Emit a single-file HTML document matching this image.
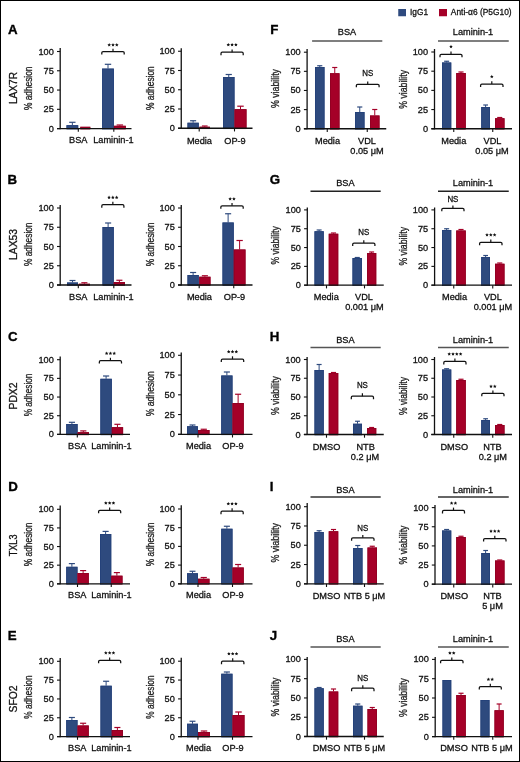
<!DOCTYPE html>
<html><head><meta charset="utf-8"><style>
html,body{margin:0;padding:0;background:#fff;}
body{width:520px;height:762px;overflow:hidden;position:relative;}
svg{position:absolute;left:0;top:0;font-family:"Liberation Sans", sans-serif;will-change:transform;}
.frame{position:absolute;left:0;top:0;width:520px;height:762px;box-sizing:border-box;border:1.5px solid #000;}
</style></head><body>
<svg width="520" height="762" viewBox="0 0 520 762">
<rect x="66.5" y="125.2" width="11.7" height="3.4" fill="#2E4A7E"/>
<rect x="66.9" y="125.6" width="10.9" height="3.4" fill="none" stroke="#24407a" stroke-width="0.8"/>
<line x1="72.35" y1="125.2" x2="72.35" y2="122.3" stroke="#2E4A7E" stroke-width="1.0"/>
<line x1="69.19" y1="122.3" x2="75.51" y2="122.3" stroke="#2E4A7E" stroke-width="1.2"/>
<rect x="80.3" y="126.8" width="10.0" height="1.8" fill="#A50028"/>
<rect x="80.7" y="127.2" width="9.2" height="1.8" fill="none" stroke="#8f0022" stroke-width="0.8"/>
<rect x="102.1" y="68.6" width="11.8" height="60.0" fill="#2E4A7E"/>
<rect x="102.5" y="69.0" width="11" height="60.0" fill="none" stroke="#24407a" stroke-width="0.8"/>
<line x1="108.0" y1="68.6" x2="108.0" y2="64.3" stroke="#2E4A7E" stroke-width="1.0"/>
<line x1="104.81" y1="64.3" x2="111.19" y2="64.3" stroke="#2E4A7E" stroke-width="1.2"/>
<rect x="113.9" y="125.8" width="11.9" height="2.8" fill="#A50028"/>
<rect x="114.3" y="126.2" width="11.1" height="2.8" fill="none" stroke="#8f0022" stroke-width="0.8"/>
<line x1="119.85" y1="125.8" x2="119.85" y2="125" stroke="#A50028" stroke-width="1.0"/>
<line x1="116.64" y1="125" x2="123.06" y2="125" stroke="#A50028" stroke-width="1.2"/>
<line x1="60.2" y1="48.1" x2="60.2" y2="129.15" stroke="#111" stroke-width="1.3"/>
<line x1="57.0" y1="128.6" x2="131.5" y2="128.6" stroke="#111" stroke-width="1.3"/>
<line x1="57.0" y1="128.6" x2="60.2" y2="128.6" stroke="#111" stroke-width="1.1"/>
<text x="53.8" y="131.6" font-size="9.2" text-anchor="end" fill="#111" font-weight="normal" stroke="#111" stroke-width="0.3">0</text>
<line x1="57.0" y1="109.32" x2="60.2" y2="109.32" stroke="#111" stroke-width="1.1"/>
<text x="53.8" y="112.32" font-size="9.2" text-anchor="end" fill="#111" font-weight="normal" stroke="#111" stroke-width="0.3">25</text>
<line x1="57.0" y1="90.05" x2="60.2" y2="90.05" stroke="#111" stroke-width="1.1"/>
<text x="53.8" y="93.05" font-size="9.2" text-anchor="end" fill="#111" font-weight="normal" stroke="#111" stroke-width="0.3">50</text>
<line x1="57.0" y1="70.77" x2="60.2" y2="70.77" stroke="#111" stroke-width="1.1"/>
<text x="53.8" y="73.77" font-size="9.2" text-anchor="end" fill="#111" font-weight="normal" stroke="#111" stroke-width="0.3">75</text>
<line x1="57.0" y1="51.5" x2="60.2" y2="51.5" stroke="#111" stroke-width="1.1"/>
<text x="53.8" y="54.5" font-size="9.2" text-anchor="end" fill="#111" font-weight="normal" stroke="#111" stroke-width="0.3">100</text>
<line x1="78.3" y1="128.6" x2="78.3" y2="131.8" stroke="#111" stroke-width="1.1"/>
<line x1="113.8" y1="128.6" x2="113.8" y2="131.8" stroke="#111" stroke-width="1.1"/>
<path d="M101.8,54.5 L101.8,52.8 Q101.8,51.5 103.1,51.5 L122.9,51.5 Q124.2,51.5 124.2,52.8 L124.2,54.5" fill="none" stroke="#111" stroke-width="1.25"/>
<line x1="113.0" y1="51.5" x2="113.0" y2="48.7" stroke="#111" stroke-width="1.2"/>
<polygon points="109.20,43.05 109.74,44.15 110.96,44.33 110.08,45.19 110.29,46.40 109.20,45.82 108.11,46.40 108.32,45.19 107.44,44.33 108.66,44.15" fill="#111"/>
<polygon points="113.00,43.05 113.54,44.15 114.76,44.33 113.88,45.19 114.09,46.40 113.00,45.82 111.91,46.40 112.12,45.19 111.24,44.33 112.46,44.15" fill="#111"/>
<polygon points="116.80,43.05 117.34,44.15 118.56,44.33 117.68,45.19 117.89,46.40 116.80,45.82 115.71,46.40 115.92,45.19 115.04,44.33 116.26,44.15" fill="#111"/>
<text x="78.3" y="143" font-size="9.2" text-anchor="middle" fill="#111" font-weight="normal" stroke="#111" stroke-width="0.3">BSA</text>
<text x="113.4" y="143" font-size="9.2" text-anchor="middle" fill="#111" font-weight="normal" stroke="#111" stroke-width="0.3">Laminin-1</text>
<text x="0" y="0" font-size="10.6" text-anchor="middle" fill="#222" font-weight="normal" stroke="#222" stroke-width="0.3" textLength="43.6" lengthAdjust="spacingAndGlyphs" transform="translate(32.2,88.3) rotate(-90)">% adhesion</text>
<rect x="67" y="282.5" width="11" height="2.5" fill="#2E4A7E"/>
<rect x="67.4" y="282.9" width="10.2" height="2.5" fill="none" stroke="#24407a" stroke-width="0.8"/>
<line x1="72.5" y1="282.5" x2="72.5" y2="280.5" stroke="#2E4A7E" stroke-width="1.0"/>
<line x1="69.53" y1="280.5" x2="75.47" y2="280.5" stroke="#2E4A7E" stroke-width="1.2"/>
<rect x="78.75" y="283.75" width="11.25" height="1.25" fill="#A50028"/>
<rect x="79.15" y="284.15" width="10.45" height="1.25" fill="none" stroke="#8f0022" stroke-width="0.8"/>
<line x1="84.38" y1="283.75" x2="84.38" y2="282.75" stroke="#A50028" stroke-width="1.0"/>
<line x1="81.34" y1="282.75" x2="87.41" y2="282.75" stroke="#A50028" stroke-width="1.2"/>
<rect x="102.5" y="227" width="11.25" height="58" fill="#2E4A7E"/>
<rect x="102.9" y="227.4" width="10.45" height="58" fill="none" stroke="#24407a" stroke-width="0.8"/>
<line x1="108.12" y1="227" x2="108.12" y2="223" stroke="#2E4A7E" stroke-width="1.0"/>
<line x1="105.09" y1="223" x2="111.16" y2="223" stroke="#2E4A7E" stroke-width="1.2"/>
<rect x="113.75" y="282" width="11.25" height="3" fill="#A50028"/>
<rect x="114.15" y="282.4" width="10.45" height="3" fill="none" stroke="#8f0022" stroke-width="0.8"/>
<line x1="119.38" y1="282" x2="119.38" y2="280.25" stroke="#A50028" stroke-width="1.0"/>
<line x1="116.34" y1="280.25" x2="122.41" y2="280.25" stroke="#A50028" stroke-width="1.2"/>
<line x1="60.2" y1="205" x2="60.2" y2="285.55" stroke="#111" stroke-width="1.3"/>
<line x1="57.0" y1="285" x2="131.5" y2="285" stroke="#111" stroke-width="1.3"/>
<line x1="57.0" y1="285.0" x2="60.2" y2="285.0" stroke="#111" stroke-width="1.1"/>
<text x="53.8" y="288.0" font-size="9.2" text-anchor="end" fill="#111" font-weight="normal" stroke="#111" stroke-width="0.3">0</text>
<line x1="57.0" y1="265.75" x2="60.2" y2="265.75" stroke="#111" stroke-width="1.1"/>
<text x="53.8" y="268.75" font-size="9.2" text-anchor="end" fill="#111" font-weight="normal" stroke="#111" stroke-width="0.3">25</text>
<line x1="57.0" y1="246.5" x2="60.2" y2="246.5" stroke="#111" stroke-width="1.1"/>
<text x="53.8" y="249.5" font-size="9.2" text-anchor="end" fill="#111" font-weight="normal" stroke="#111" stroke-width="0.3">50</text>
<line x1="57.0" y1="227.25" x2="60.2" y2="227.25" stroke="#111" stroke-width="1.1"/>
<text x="53.8" y="230.25" font-size="9.2" text-anchor="end" fill="#111" font-weight="normal" stroke="#111" stroke-width="0.3">75</text>
<line x1="57.0" y1="208.0" x2="60.2" y2="208.0" stroke="#111" stroke-width="1.1"/>
<text x="53.8" y="211.0" font-size="9.2" text-anchor="end" fill="#111" font-weight="normal" stroke="#111" stroke-width="0.3">100</text>
<line x1="78.3" y1="285" x2="78.3" y2="288.2" stroke="#111" stroke-width="1.1"/>
<line x1="113.8" y1="285" x2="113.8" y2="288.2" stroke="#111" stroke-width="1.1"/>
<path d="M101.8,207.65 L101.8,205.95 Q101.8,204.65 103.1,204.65 L122.6,204.65 Q123.9,204.65 123.9,205.95 L123.9,207.65" fill="none" stroke="#111" stroke-width="1.25"/>
<line x1="112.85" y1="204.65" x2="112.85" y2="201.85" stroke="#111" stroke-width="1.2"/>
<polygon points="109.05,195.60 109.59,196.70 110.81,196.88 109.93,197.74 110.14,198.95 109.05,198.38 107.96,198.95 108.17,197.74 107.29,196.88 108.51,196.70" fill="#111"/>
<polygon points="112.85,195.60 113.39,196.70 114.61,196.88 113.73,197.74 113.94,198.95 112.85,198.38 111.76,198.95 111.97,197.74 111.09,196.88 112.31,196.70" fill="#111"/>
<polygon points="116.65,195.60 117.19,196.70 118.41,196.88 117.53,197.74 117.74,198.95 116.65,198.38 115.56,198.95 115.77,197.74 114.89,196.88 116.11,196.70" fill="#111"/>
<text x="78.3" y="299.5" font-size="9.2" text-anchor="middle" fill="#111" font-weight="normal" stroke="#111" stroke-width="0.3">BSA</text>
<text x="113.4" y="299.5" font-size="9.2" text-anchor="middle" fill="#111" font-weight="normal" stroke="#111" stroke-width="0.3">Laminin-1</text>
<text x="0" y="0" font-size="10.6" text-anchor="middle" fill="#222" font-weight="normal" stroke="#222" stroke-width="0.3" textLength="43.5" lengthAdjust="spacingAndGlyphs" transform="translate(32.2,244.25) rotate(-90)">% adhesion</text>
<rect x="66.25" y="424" width="11.35" height="10.4" fill="#2E4A7E"/>
<rect x="66.65" y="424.4" width="10.55" height="10.4" fill="none" stroke="#24407a" stroke-width="0.8"/>
<line x1="71.92" y1="424" x2="71.92" y2="422.3" stroke="#2E4A7E" stroke-width="1.0"/>
<line x1="68.86" y1="422.3" x2="74.99" y2="422.3" stroke="#2E4A7E" stroke-width="1.2"/>
<rect x="77.6" y="432.2" width="11.4" height="2.2" fill="#A50028"/>
<rect x="78.0" y="432.6" width="10.6" height="2.2" fill="none" stroke="#8f0022" stroke-width="0.8"/>
<line x1="83.3" y1="432.2" x2="83.3" y2="430.9" stroke="#A50028" stroke-width="1.0"/>
<line x1="80.22" y1="430.9" x2="86.38" y2="430.9" stroke="#A50028" stroke-width="1.2"/>
<rect x="100.4" y="378.8" width="11.4" height="55.6" fill="#2E4A7E"/>
<rect x="100.8" y="379.2" width="10.6" height="55.6" fill="none" stroke="#24407a" stroke-width="0.8"/>
<line x1="106.1" y1="378.8" x2="106.1" y2="376" stroke="#2E4A7E" stroke-width="1.0"/>
<line x1="103.02" y1="376" x2="109.18" y2="376" stroke="#2E4A7E" stroke-width="1.2"/>
<rect x="111.8" y="427.2" width="11.3" height="7.2" fill="#A50028"/>
<rect x="112.2" y="427.6" width="10.5" height="7.2" fill="none" stroke="#8f0022" stroke-width="0.8"/>
<line x1="117.45" y1="427.2" x2="117.45" y2="424.3" stroke="#A50028" stroke-width="1.0"/>
<line x1="114.4" y1="424.3" x2="120.5" y2="424.3" stroke="#A50028" stroke-width="1.2"/>
<line x1="60.2" y1="356.4" x2="60.2" y2="434.95" stroke="#111" stroke-width="1.3"/>
<line x1="57.0" y1="434.4" x2="130" y2="434.4" stroke="#111" stroke-width="1.3"/>
<line x1="57.0" y1="434.4" x2="60.2" y2="434.4" stroke="#111" stroke-width="1.1"/>
<text x="53.8" y="437.4" font-size="9.2" text-anchor="end" fill="#111" font-weight="normal" stroke="#111" stroke-width="0.3">0</text>
<line x1="57.0" y1="415.72" x2="60.2" y2="415.72" stroke="#111" stroke-width="1.1"/>
<text x="53.8" y="418.72" font-size="9.2" text-anchor="end" fill="#111" font-weight="normal" stroke="#111" stroke-width="0.3">25</text>
<line x1="57.0" y1="397.05" x2="60.2" y2="397.05" stroke="#111" stroke-width="1.1"/>
<text x="53.8" y="400.05" font-size="9.2" text-anchor="end" fill="#111" font-weight="normal" stroke="#111" stroke-width="0.3">50</text>
<line x1="57.0" y1="378.38" x2="60.2" y2="378.38" stroke="#111" stroke-width="1.1"/>
<text x="53.8" y="381.38" font-size="9.2" text-anchor="end" fill="#111" font-weight="normal" stroke="#111" stroke-width="0.3">75</text>
<line x1="57.0" y1="359.7" x2="60.2" y2="359.7" stroke="#111" stroke-width="1.1"/>
<text x="53.8" y="362.7" font-size="9.2" text-anchor="end" fill="#111" font-weight="normal" stroke="#111" stroke-width="0.3">100</text>
<line x1="77.3" y1="434.4" x2="77.3" y2="437.6" stroke="#111" stroke-width="1.1"/>
<line x1="111.4" y1="434.4" x2="111.4" y2="437.6" stroke="#111" stroke-width="1.1"/>
<path d="M99.35,363.6 L99.35,361.9 Q99.35,360.6 100.65,360.6 L120.2,360.6 Q121.5,360.6 121.5,361.9 L121.5,363.6" fill="none" stroke="#111" stroke-width="1.25"/>
<line x1="110.42" y1="360.6" x2="110.42" y2="357.8" stroke="#111" stroke-width="1.2"/>
<polygon points="106.62,351.55 107.17,352.65 108.38,352.83 107.50,353.69 107.71,354.90 106.62,354.33 105.54,354.90 105.75,353.69 104.87,352.83 106.08,352.65" fill="#111"/>
<polygon points="110.42,351.55 110.97,352.65 112.18,352.83 111.30,353.69 111.51,354.90 110.42,354.33 109.34,354.90 109.55,353.69 108.67,352.83 109.88,352.65" fill="#111"/>
<polygon points="114.22,351.55 114.77,352.65 115.98,352.83 115.10,353.69 115.31,354.90 114.22,354.33 113.14,354.90 113.35,353.69 112.47,352.83 113.68,352.65" fill="#111"/>
<text x="77.3" y="448.5" font-size="9.2" text-anchor="middle" fill="#111" font-weight="normal" stroke="#111" stroke-width="0.3">BSA</text>
<text x="111.4" y="448.5" font-size="9.2" text-anchor="middle" fill="#111" font-weight="normal" stroke="#111" stroke-width="0.3">Laminin-1</text>
<text x="0" y="0" font-size="10.6" text-anchor="middle" fill="#222" font-weight="normal" stroke="#222" stroke-width="0.3" textLength="42.5" lengthAdjust="spacingAndGlyphs" transform="translate(32.2,395.0) rotate(-90)">% adhesion</text>
<rect x="66.25" y="566.8" width="11.25" height="17.0" fill="#2E4A7E"/>
<rect x="66.65" y="567.2" width="10.45" height="17.0" fill="none" stroke="#24407a" stroke-width="0.8"/>
<line x1="71.88" y1="566.8" x2="71.88" y2="563.6" stroke="#2E4A7E" stroke-width="1.0"/>
<line x1="68.84" y1="563.6" x2="74.91" y2="563.6" stroke="#2E4A7E" stroke-width="1.2"/>
<rect x="77.5" y="573" width="11.25" height="10.8" fill="#A50028"/>
<rect x="77.9" y="573.4" width="10.45" height="10.8" fill="none" stroke="#8f0022" stroke-width="0.8"/>
<line x1="83.12" y1="573" x2="83.12" y2="570.6" stroke="#A50028" stroke-width="1.0"/>
<line x1="80.09" y1="570.6" x2="86.16" y2="570.6" stroke="#A50028" stroke-width="1.2"/>
<rect x="100" y="534" width="11.25" height="49.8" fill="#2E4A7E"/>
<rect x="100.4" y="534.4" width="10.45" height="49.8" fill="none" stroke="#24407a" stroke-width="0.8"/>
<line x1="105.62" y1="534" x2="105.62" y2="531.4" stroke="#2E4A7E" stroke-width="1.0"/>
<line x1="102.59" y1="531.4" x2="108.66" y2="531.4" stroke="#2E4A7E" stroke-width="1.2"/>
<rect x="111.25" y="575.7" width="11.25" height="8.1" fill="#A50028"/>
<rect x="111.65" y="576.1" width="10.45" height="8.1" fill="none" stroke="#8f0022" stroke-width="0.8"/>
<line x1="116.88" y1="575.7" x2="116.88" y2="572.6" stroke="#A50028" stroke-width="1.0"/>
<line x1="113.84" y1="572.6" x2="119.91" y2="572.6" stroke="#A50028" stroke-width="1.2"/>
<line x1="60.2" y1="505.6" x2="60.2" y2="584.35" stroke="#111" stroke-width="1.3"/>
<line x1="57.0" y1="583.8" x2="130" y2="583.8" stroke="#111" stroke-width="1.3"/>
<line x1="57.0" y1="583.8" x2="60.2" y2="583.8" stroke="#111" stroke-width="1.1"/>
<text x="53.8" y="586.8" font-size="9.2" text-anchor="end" fill="#111" font-weight="normal" stroke="#111" stroke-width="0.3">0</text>
<line x1="57.0" y1="565.17" x2="60.2" y2="565.17" stroke="#111" stroke-width="1.1"/>
<text x="53.8" y="568.17" font-size="9.2" text-anchor="end" fill="#111" font-weight="normal" stroke="#111" stroke-width="0.3">25</text>
<line x1="57.0" y1="546.55" x2="60.2" y2="546.55" stroke="#111" stroke-width="1.1"/>
<text x="53.8" y="549.55" font-size="9.2" text-anchor="end" fill="#111" font-weight="normal" stroke="#111" stroke-width="0.3">50</text>
<line x1="57.0" y1="527.92" x2="60.2" y2="527.92" stroke="#111" stroke-width="1.1"/>
<text x="53.8" y="530.92" font-size="9.2" text-anchor="end" fill="#111" font-weight="normal" stroke="#111" stroke-width="0.3">75</text>
<line x1="57.0" y1="509.3" x2="60.2" y2="509.3" stroke="#111" stroke-width="1.1"/>
<text x="53.8" y="512.3" font-size="9.2" text-anchor="end" fill="#111" font-weight="normal" stroke="#111" stroke-width="0.3">100</text>
<line x1="77.5" y1="583.8" x2="77.5" y2="587.0" stroke="#111" stroke-width="1.1"/>
<line x1="111.25" y1="583.8" x2="111.25" y2="587.0" stroke="#111" stroke-width="1.1"/>
<path d="M98.6,513.3 L98.6,511.6 Q98.6,510.3 99.9,510.3 L119.4,510.3 Q120.7,510.3 120.7,511.6 L120.7,513.3" fill="none" stroke="#111" stroke-width="1.25"/>
<line x1="109.65" y1="510.3" x2="109.65" y2="507.5" stroke="#111" stroke-width="1.2"/>
<polygon points="105.85,501.25 106.39,502.35 107.61,502.53 106.73,503.39 106.94,504.60 105.85,504.03 104.76,504.60 104.97,503.39 104.09,502.53 105.31,502.35" fill="#111"/>
<polygon points="109.65,501.25 110.19,502.35 111.41,502.53 110.53,503.39 110.74,504.60 109.65,504.03 108.56,504.60 108.77,503.39 107.89,502.53 109.11,502.35" fill="#111"/>
<polygon points="113.45,501.25 113.99,502.35 115.21,502.53 114.33,503.39 114.54,504.60 113.45,504.03 112.36,504.60 112.57,503.39 111.69,502.53 112.91,502.35" fill="#111"/>
<text x="77.3" y="598" font-size="9.2" text-anchor="middle" fill="#111" font-weight="normal" stroke="#111" stroke-width="0.3">BSA</text>
<text x="111.4" y="598" font-size="9.2" text-anchor="middle" fill="#111" font-weight="normal" stroke="#111" stroke-width="0.3">Laminin-1</text>
<text x="0" y="0" font-size="10.6" text-anchor="middle" fill="#222" font-weight="normal" stroke="#222" stroke-width="0.3" textLength="43.75" lengthAdjust="spacingAndGlyphs" transform="translate(32.2,544.38) rotate(-90)">% adhesion</text>
<rect x="66.25" y="720" width="11.25" height="16.6" fill="#2E4A7E"/>
<rect x="66.65" y="720.4" width="10.45" height="16.6" fill="none" stroke="#24407a" stroke-width="0.8"/>
<line x1="71.88" y1="720" x2="71.88" y2="717.5" stroke="#2E4A7E" stroke-width="1.0"/>
<line x1="68.84" y1="717.5" x2="74.91" y2="717.5" stroke="#2E4A7E" stroke-width="1.2"/>
<rect x="77.5" y="725.5" width="11.25" height="11.1" fill="#A50028"/>
<rect x="77.9" y="725.9" width="10.45" height="11.1" fill="none" stroke="#8f0022" stroke-width="0.8"/>
<line x1="83.12" y1="725.5" x2="83.12" y2="723.25" stroke="#A50028" stroke-width="1.0"/>
<line x1="80.09" y1="723.25" x2="86.16" y2="723.25" stroke="#A50028" stroke-width="1.2"/>
<rect x="100.5" y="685.75" width="11.25" height="50.85" fill="#2E4A7E"/>
<rect x="100.9" y="686.15" width="10.45" height="50.85" fill="none" stroke="#24407a" stroke-width="0.8"/>
<line x1="106.12" y1="685.75" x2="106.12" y2="681.25" stroke="#2E4A7E" stroke-width="1.0"/>
<line x1="103.09" y1="681.25" x2="109.16" y2="681.25" stroke="#2E4A7E" stroke-width="1.2"/>
<rect x="111.75" y="730" width="11.25" height="6.6" fill="#A50028"/>
<rect x="112.15" y="730.4" width="10.45" height="6.6" fill="none" stroke="#8f0022" stroke-width="0.8"/>
<line x1="117.38" y1="730" x2="117.38" y2="727.5" stroke="#A50028" stroke-width="1.0"/>
<line x1="114.34" y1="727.5" x2="120.41" y2="727.5" stroke="#A50028" stroke-width="1.2"/>
<line x1="60.2" y1="658.1" x2="60.2" y2="737.15" stroke="#111" stroke-width="1.3"/>
<line x1="57.0" y1="736.6" x2="130" y2="736.6" stroke="#111" stroke-width="1.3"/>
<line x1="57.0" y1="736.6" x2="60.2" y2="736.6" stroke="#111" stroke-width="1.1"/>
<text x="53.8" y="739.6" font-size="9.2" text-anchor="end" fill="#111" font-weight="normal" stroke="#111" stroke-width="0.3">0</text>
<line x1="57.0" y1="717.77" x2="60.2" y2="717.77" stroke="#111" stroke-width="1.1"/>
<text x="53.8" y="720.77" font-size="9.2" text-anchor="end" fill="#111" font-weight="normal" stroke="#111" stroke-width="0.3">25</text>
<line x1="57.0" y1="698.95" x2="60.2" y2="698.95" stroke="#111" stroke-width="1.1"/>
<text x="53.8" y="701.95" font-size="9.2" text-anchor="end" fill="#111" font-weight="normal" stroke="#111" stroke-width="0.3">50</text>
<line x1="57.0" y1="680.12" x2="60.2" y2="680.12" stroke="#111" stroke-width="1.1"/>
<text x="53.8" y="683.12" font-size="9.2" text-anchor="end" fill="#111" font-weight="normal" stroke="#111" stroke-width="0.3">75</text>
<line x1="57.0" y1="661.3" x2="60.2" y2="661.3" stroke="#111" stroke-width="1.1"/>
<text x="53.8" y="664.3" font-size="9.2" text-anchor="end" fill="#111" font-weight="normal" stroke="#111" stroke-width="0.3">100</text>
<line x1="77.5" y1="736.6" x2="77.5" y2="739.8" stroke="#111" stroke-width="1.1"/>
<line x1="111.75" y1="736.6" x2="111.75" y2="739.8" stroke="#111" stroke-width="1.1"/>
<path d="M98.6,663.3 L98.6,661.6 Q98.6,660.3 99.9,660.3 L119.4,660.3 Q120.7,660.3 120.7,661.6 L120.7,663.3" fill="none" stroke="#111" stroke-width="1.25"/>
<line x1="109.65" y1="660.3" x2="109.65" y2="657.5" stroke="#111" stroke-width="1.2"/>
<polygon points="105.85,651.05 106.39,652.15 107.61,652.33 106.73,653.19 106.94,654.40 105.85,653.82 104.76,654.40 104.97,653.19 104.09,652.33 105.31,652.15" fill="#111"/>
<polygon points="109.65,651.05 110.19,652.15 111.41,652.33 110.53,653.19 110.74,654.40 109.65,653.82 108.56,654.40 108.77,653.19 107.89,652.33 109.11,652.15" fill="#111"/>
<polygon points="113.45,651.05 113.99,652.15 115.21,652.33 114.33,653.19 114.54,654.40 113.45,653.82 112.36,654.40 112.57,653.19 111.69,652.33 112.91,652.15" fill="#111"/>
<text x="77.3" y="751" font-size="9.2" text-anchor="middle" fill="#111" font-weight="normal" stroke="#111" stroke-width="0.3">BSA</text>
<text x="111.4" y="751" font-size="9.2" text-anchor="middle" fill="#111" font-weight="normal" stroke="#111" stroke-width="0.3">Laminin-1</text>
<text x="0" y="0" font-size="10.6" text-anchor="middle" fill="#222" font-weight="normal" stroke="#222" stroke-width="0.3" textLength="43.25" lengthAdjust="spacingAndGlyphs" transform="translate(32.2,697.12) rotate(-90)">% adhesion</text>
<rect x="187.5" y="122.75" width="11.25" height="5.5" fill="#2E4A7E"/>
<rect x="187.9" y="123.15" width="10.45" height="5.5" fill="none" stroke="#24407a" stroke-width="0.8"/>
<line x1="193.12" y1="122.75" x2="193.12" y2="120.75" stroke="#2E4A7E" stroke-width="1.0"/>
<line x1="190.09" y1="120.75" x2="196.16" y2="120.75" stroke="#2E4A7E" stroke-width="1.2"/>
<rect x="199.5" y="126.75" width="10.5" height="1.5" fill="#A50028"/>
<rect x="199.9" y="127.15" width="9.7" height="1.5" fill="none" stroke="#8f0022" stroke-width="0.8"/>
<line x1="204.75" y1="126.75" x2="204.75" y2="126" stroke="#A50028" stroke-width="1.0"/>
<line x1="201.91" y1="126" x2="207.59" y2="126" stroke="#A50028" stroke-width="1.2"/>
<rect x="223" y="77" width="11.5" height="51.25" fill="#2E4A7E"/>
<rect x="223.4" y="77.4" width="10.7" height="51.25" fill="none" stroke="#24407a" stroke-width="0.8"/>
<line x1="228.75" y1="77" x2="228.75" y2="74.5" stroke="#2E4A7E" stroke-width="1.0"/>
<line x1="225.65" y1="74.5" x2="231.85" y2="74.5" stroke="#2E4A7E" stroke-width="1.2"/>
<rect x="234.5" y="109.2" width="12.0" height="19.05" fill="#A50028"/>
<rect x="234.9" y="109.6" width="11.2" height="19.05" fill="none" stroke="#8f0022" stroke-width="0.8"/>
<line x1="240.5" y1="109.2" x2="240.5" y2="106.2" stroke="#A50028" stroke-width="1.0"/>
<line x1="237.26" y1="106.2" x2="243.74" y2="106.2" stroke="#A50028" stroke-width="1.2"/>
<line x1="181.25" y1="48.25" x2="181.25" y2="128.8" stroke="#111" stroke-width="1.3"/>
<line x1="178.05" y1="128.25" x2="252.5" y2="128.25" stroke="#111" stroke-width="1.3"/>
<line x1="178.05" y1="128.25" x2="181.25" y2="128.25" stroke="#111" stroke-width="1.1"/>
<text x="174.85" y="131.25" font-size="9.2" text-anchor="end" fill="#111" font-weight="normal" stroke="#111" stroke-width="0.3">0</text>
<line x1="178.05" y1="109.0" x2="181.25" y2="109.0" stroke="#111" stroke-width="1.1"/>
<text x="174.85" y="112.0" font-size="9.2" text-anchor="end" fill="#111" font-weight="normal" stroke="#111" stroke-width="0.3">25</text>
<line x1="178.05" y1="89.75" x2="181.25" y2="89.75" stroke="#111" stroke-width="1.1"/>
<text x="174.85" y="92.75" font-size="9.2" text-anchor="end" fill="#111" font-weight="normal" stroke="#111" stroke-width="0.3">50</text>
<line x1="178.05" y1="70.5" x2="181.25" y2="70.5" stroke="#111" stroke-width="1.1"/>
<text x="174.85" y="73.5" font-size="9.2" text-anchor="end" fill="#111" font-weight="normal" stroke="#111" stroke-width="0.3">75</text>
<line x1="178.05" y1="51.25" x2="181.25" y2="51.25" stroke="#111" stroke-width="1.1"/>
<text x="174.85" y="54.25" font-size="9.2" text-anchor="end" fill="#111" font-weight="normal" stroke="#111" stroke-width="0.3">100</text>
<line x1="199.2" y1="128.25" x2="199.2" y2="131.45" stroke="#111" stroke-width="1.1"/>
<line x1="234.5" y1="128.25" x2="234.5" y2="131.45" stroke="#111" stroke-width="1.1"/>
<path d="M221.0,55.2 L221.0,53.5 Q221.0,52.2 222.3,52.2 L241.9,52.2 Q243.2,52.2 243.2,53.5 L243.2,55.2" fill="none" stroke="#111" stroke-width="1.25"/>
<line x1="232.1" y1="52.2" x2="232.1" y2="49.4" stroke="#111" stroke-width="1.2"/>
<polygon points="228.30,42.95 228.84,44.05 230.06,44.23 229.18,45.09 229.39,46.30 228.30,45.73 227.21,46.30 227.42,45.09 226.54,44.23 227.76,44.05" fill="#111"/>
<polygon points="232.10,42.95 232.64,44.05 233.86,44.23 232.98,45.09 233.19,46.30 232.10,45.73 231.01,46.30 231.22,45.09 230.34,44.23 231.56,44.05" fill="#111"/>
<polygon points="235.90,42.95 236.44,44.05 237.66,44.23 236.78,45.09 236.99,46.30 235.90,45.73 234.81,46.30 235.02,45.09 234.14,44.23 235.36,44.05" fill="#111"/>
<text x="199.4" y="143.5" font-size="9.2" text-anchor="middle" fill="#111" font-weight="normal" stroke="#111" stroke-width="0.3">Media</text>
<text x="235" y="143.5" font-size="9.2" text-anchor="middle" fill="#111" font-weight="normal" stroke="#111" stroke-width="0.3">OP-9</text>
<text x="0" y="0" font-size="10.6" text-anchor="middle" fill="#222" font-weight="normal" stroke="#222" stroke-width="0.3" textLength="43.75" lengthAdjust="spacingAndGlyphs" transform="translate(153.6,88.12) rotate(-90)">% adhesion</text>
<rect x="187.5" y="275" width="11.25" height="10" fill="#2E4A7E"/>
<rect x="187.9" y="275.4" width="10.45" height="10" fill="none" stroke="#24407a" stroke-width="0.8"/>
<line x1="193.12" y1="275" x2="193.12" y2="272.5" stroke="#2E4A7E" stroke-width="1.0"/>
<line x1="190.09" y1="272.5" x2="196.16" y2="272.5" stroke="#2E4A7E" stroke-width="1.2"/>
<rect x="199.25" y="276.75" width="11.25" height="8.25" fill="#A50028"/>
<rect x="199.65" y="277.15" width="10.45" height="8.25" fill="none" stroke="#8f0022" stroke-width="0.8"/>
<line x1="204.88" y1="276.75" x2="204.88" y2="275.75" stroke="#A50028" stroke-width="1.0"/>
<line x1="201.84" y1="275.75" x2="207.91" y2="275.75" stroke="#A50028" stroke-width="1.2"/>
<rect x="222.5" y="222.5" width="11.25" height="62.5" fill="#2E4A7E"/>
<rect x="222.9" y="222.9" width="10.45" height="62.5" fill="none" stroke="#24407a" stroke-width="0.8"/>
<line x1="228.12" y1="222.5" x2="228.12" y2="213.75" stroke="#2E4A7E" stroke-width="1.0"/>
<line x1="225.09" y1="213.75" x2="231.16" y2="213.75" stroke="#2E4A7E" stroke-width="1.2"/>
<rect x="233.75" y="249.5" width="11.75" height="35.5" fill="#A50028"/>
<rect x="234.15" y="249.9" width="10.95" height="35.5" fill="none" stroke="#8f0022" stroke-width="0.8"/>
<line x1="239.62" y1="249.5" x2="239.62" y2="240.5" stroke="#A50028" stroke-width="1.0"/>
<line x1="236.45" y1="240.5" x2="242.8" y2="240.5" stroke="#A50028" stroke-width="1.2"/>
<line x1="181.25" y1="205" x2="181.25" y2="285.55" stroke="#111" stroke-width="1.3"/>
<line x1="178.05" y1="285" x2="252.5" y2="285" stroke="#111" stroke-width="1.3"/>
<line x1="178.05" y1="285.0" x2="181.25" y2="285.0" stroke="#111" stroke-width="1.1"/>
<text x="174.85" y="288.0" font-size="9.2" text-anchor="end" fill="#111" font-weight="normal" stroke="#111" stroke-width="0.3">0</text>
<line x1="178.05" y1="265.75" x2="181.25" y2="265.75" stroke="#111" stroke-width="1.1"/>
<text x="174.85" y="268.75" font-size="9.2" text-anchor="end" fill="#111" font-weight="normal" stroke="#111" stroke-width="0.3">25</text>
<line x1="178.05" y1="246.5" x2="181.25" y2="246.5" stroke="#111" stroke-width="1.1"/>
<text x="174.85" y="249.5" font-size="9.2" text-anchor="end" fill="#111" font-weight="normal" stroke="#111" stroke-width="0.3">50</text>
<line x1="178.05" y1="227.25" x2="181.25" y2="227.25" stroke="#111" stroke-width="1.1"/>
<text x="174.85" y="230.25" font-size="9.2" text-anchor="end" fill="#111" font-weight="normal" stroke="#111" stroke-width="0.3">75</text>
<line x1="178.05" y1="208.0" x2="181.25" y2="208.0" stroke="#111" stroke-width="1.1"/>
<text x="174.85" y="211.0" font-size="9.2" text-anchor="end" fill="#111" font-weight="normal" stroke="#111" stroke-width="0.3">100</text>
<line x1="199.2" y1="285" x2="199.2" y2="288.2" stroke="#111" stroke-width="1.1"/>
<line x1="233.75" y1="285" x2="233.75" y2="288.2" stroke="#111" stroke-width="1.1"/>
<path d="M220.85,208.8 L220.85,207.1 Q220.85,205.8 222.15,205.8 L241.9,205.8 Q243.2,205.8 243.2,207.1 L243.2,208.8" fill="none" stroke="#111" stroke-width="1.25"/>
<line x1="232.03" y1="205.8" x2="232.03" y2="203.0" stroke="#111" stroke-width="1.2"/>
<polygon points="230.12,197.05 230.67,198.15 231.88,198.33 231.00,199.19 231.21,200.40 230.12,199.83 229.04,200.40 229.25,199.19 228.37,198.33 229.58,198.15" fill="#111"/>
<polygon points="233.93,197.05 234.47,198.15 235.68,198.33 234.80,199.19 235.01,200.40 233.93,199.83 232.84,200.40 233.05,199.19 232.17,198.33 233.38,198.15" fill="#111"/>
<text x="199.4" y="299.5" font-size="9.2" text-anchor="middle" fill="#111" font-weight="normal" stroke="#111" stroke-width="0.3">Media</text>
<text x="234.5" y="299.5" font-size="9.2" text-anchor="middle" fill="#111" font-weight="normal" stroke="#111" stroke-width="0.3">OP-9</text>
<text x="0" y="0" font-size="10.6" text-anchor="middle" fill="#222" font-weight="normal" stroke="#222" stroke-width="0.3" textLength="43.75" lengthAdjust="spacingAndGlyphs" transform="translate(153.6,244.38) rotate(-90)">% adhesion</text>
<rect x="187" y="426.25" width="11" height="8.05" fill="#2E4A7E"/>
<rect x="187.4" y="426.65" width="10.2" height="8.05" fill="none" stroke="#24407a" stroke-width="0.8"/>
<line x1="192.5" y1="426.25" x2="192.5" y2="425" stroke="#2E4A7E" stroke-width="1.0"/>
<line x1="189.53" y1="425" x2="195.47" y2="425" stroke="#2E4A7E" stroke-width="1.2"/>
<rect x="198" y="430" width="11.5" height="4.3" fill="#A50028"/>
<rect x="198.4" y="430.4" width="10.7" height="4.3" fill="none" stroke="#8f0022" stroke-width="0.8"/>
<line x1="203.75" y1="430" x2="203.75" y2="429.25" stroke="#A50028" stroke-width="1.0"/>
<line x1="200.65" y1="429.25" x2="206.85" y2="429.25" stroke="#A50028" stroke-width="1.2"/>
<rect x="221.25" y="375.5" width="11.25" height="58.8" fill="#2E4A7E"/>
<rect x="221.65" y="375.9" width="10.45" height="58.8" fill="none" stroke="#24407a" stroke-width="0.8"/>
<line x1="226.88" y1="375.5" x2="226.88" y2="372" stroke="#2E4A7E" stroke-width="1.0"/>
<line x1="223.84" y1="372" x2="229.91" y2="372" stroke="#2E4A7E" stroke-width="1.2"/>
<rect x="232.5" y="403" width="11.25" height="31.3" fill="#A50028"/>
<rect x="232.9" y="403.4" width="10.45" height="31.3" fill="none" stroke="#8f0022" stroke-width="0.8"/>
<line x1="238.12" y1="403" x2="238.12" y2="394.25" stroke="#A50028" stroke-width="1.0"/>
<line x1="235.09" y1="394.25" x2="241.16" y2="394.25" stroke="#A50028" stroke-width="1.2"/>
<line x1="181.25" y1="352.5" x2="181.25" y2="434.85" stroke="#111" stroke-width="1.3"/>
<line x1="178.05" y1="434.3" x2="252.5" y2="434.3" stroke="#111" stroke-width="1.3"/>
<line x1="178.05" y1="434.3" x2="181.25" y2="434.3" stroke="#111" stroke-width="1.1"/>
<text x="174.85" y="437.3" font-size="9.2" text-anchor="end" fill="#111" font-weight="normal" stroke="#111" stroke-width="0.3">0</text>
<line x1="178.05" y1="414.55" x2="181.25" y2="414.55" stroke="#111" stroke-width="1.1"/>
<text x="174.85" y="417.55" font-size="9.2" text-anchor="end" fill="#111" font-weight="normal" stroke="#111" stroke-width="0.3">25</text>
<line x1="178.05" y1="394.8" x2="181.25" y2="394.8" stroke="#111" stroke-width="1.1"/>
<text x="174.85" y="397.8" font-size="9.2" text-anchor="end" fill="#111" font-weight="normal" stroke="#111" stroke-width="0.3">50</text>
<line x1="178.05" y1="375.05" x2="181.25" y2="375.05" stroke="#111" stroke-width="1.1"/>
<text x="174.85" y="378.05" font-size="9.2" text-anchor="end" fill="#111" font-weight="normal" stroke="#111" stroke-width="0.3">75</text>
<line x1="178.05" y1="355.3" x2="181.25" y2="355.3" stroke="#111" stroke-width="1.1"/>
<text x="174.85" y="358.3" font-size="9.2" text-anchor="end" fill="#111" font-weight="normal" stroke="#111" stroke-width="0.3">100</text>
<line x1="198" y1="434.3" x2="198" y2="437.5" stroke="#111" stroke-width="1.1"/>
<line x1="232.5" y1="434.3" x2="232.5" y2="437.5" stroke="#111" stroke-width="1.1"/>
<path d="M221.3,362.1 L221.3,360.4 Q221.3,359.1 222.6,359.1 L242.4,359.1 Q243.7,359.1 243.7,360.4 L243.7,362.1" fill="none" stroke="#111" stroke-width="1.25"/>
<line x1="232.5" y1="359.1" x2="232.5" y2="356.3" stroke="#111" stroke-width="1.2"/>
<polygon points="228.70,349.85 229.24,350.95 230.46,351.13 229.58,351.99 229.79,353.20 228.70,352.63 227.61,353.20 227.82,351.99 226.94,351.13 228.16,350.95" fill="#111"/>
<polygon points="232.50,349.85 233.04,350.95 234.26,351.13 233.38,351.99 233.59,353.20 232.50,352.63 231.41,353.20 231.62,351.99 230.74,351.13 231.96,350.95" fill="#111"/>
<polygon points="236.30,349.85 236.84,350.95 238.06,351.13 237.18,351.99 237.39,353.20 236.30,352.63 235.21,353.20 235.42,351.99 234.54,351.13 235.76,350.95" fill="#111"/>
<text x="198.5" y="448.5" font-size="9.2" text-anchor="middle" fill="#111" font-weight="normal" stroke="#111" stroke-width="0.3">Media</text>
<text x="233" y="448.5" font-size="9.2" text-anchor="middle" fill="#111" font-weight="normal" stroke="#111" stroke-width="0.3">OP-9</text>
<text x="0" y="0" font-size="10.6" text-anchor="middle" fill="#222" font-weight="normal" stroke="#222" stroke-width="0.3" textLength="45.0" lengthAdjust="spacingAndGlyphs" transform="translate(153.6,393.75) rotate(-90)">% adhesion</text>
<rect x="187" y="573.25" width="11" height="10.55" fill="#2E4A7E"/>
<rect x="187.4" y="573.65" width="10.2" height="10.55" fill="none" stroke="#24407a" stroke-width="0.8"/>
<line x1="192.5" y1="573.25" x2="192.5" y2="571.25" stroke="#2E4A7E" stroke-width="1.0"/>
<line x1="189.53" y1="571.25" x2="195.47" y2="571.25" stroke="#2E4A7E" stroke-width="1.2"/>
<rect x="198" y="578.75" width="11.5" height="5.05" fill="#A50028"/>
<rect x="198.4" y="579.15" width="10.7" height="5.05" fill="none" stroke="#8f0022" stroke-width="0.8"/>
<line x1="203.75" y1="578.75" x2="203.75" y2="577.5" stroke="#A50028" stroke-width="1.0"/>
<line x1="200.65" y1="577.5" x2="206.85" y2="577.5" stroke="#A50028" stroke-width="1.2"/>
<rect x="221.25" y="528.75" width="11.25" height="55.05" fill="#2E4A7E"/>
<rect x="221.65" y="529.15" width="10.45" height="55.05" fill="none" stroke="#24407a" stroke-width="0.8"/>
<line x1="226.88" y1="528.75" x2="226.88" y2="526.25" stroke="#2E4A7E" stroke-width="1.0"/>
<line x1="223.84" y1="526.25" x2="229.91" y2="526.25" stroke="#2E4A7E" stroke-width="1.2"/>
<rect x="232.5" y="567.5" width="11.25" height="16.3" fill="#A50028"/>
<rect x="232.9" y="567.9" width="10.45" height="16.3" fill="none" stroke="#8f0022" stroke-width="0.8"/>
<line x1="238.12" y1="567.5" x2="238.12" y2="564.5" stroke="#A50028" stroke-width="1.0"/>
<line x1="235.09" y1="564.5" x2="241.16" y2="564.5" stroke="#A50028" stroke-width="1.2"/>
<line x1="181.25" y1="505.25" x2="181.25" y2="584.35" stroke="#111" stroke-width="1.3"/>
<line x1="178.05" y1="583.8" x2="252.5" y2="583.8" stroke="#111" stroke-width="1.3"/>
<line x1="178.05" y1="583.8" x2="181.25" y2="583.8" stroke="#111" stroke-width="1.1"/>
<text x="174.85" y="586.8" font-size="9.2" text-anchor="end" fill="#111" font-weight="normal" stroke="#111" stroke-width="0.3">0</text>
<line x1="178.05" y1="565.1" x2="181.25" y2="565.1" stroke="#111" stroke-width="1.1"/>
<text x="174.85" y="568.1" font-size="9.2" text-anchor="end" fill="#111" font-weight="normal" stroke="#111" stroke-width="0.3">25</text>
<line x1="178.05" y1="546.4" x2="181.25" y2="546.4" stroke="#111" stroke-width="1.1"/>
<text x="174.85" y="549.4" font-size="9.2" text-anchor="end" fill="#111" font-weight="normal" stroke="#111" stroke-width="0.3">50</text>
<line x1="178.05" y1="527.7" x2="181.25" y2="527.7" stroke="#111" stroke-width="1.1"/>
<text x="174.85" y="530.7" font-size="9.2" text-anchor="end" fill="#111" font-weight="normal" stroke="#111" stroke-width="0.3">75</text>
<line x1="178.05" y1="509.0" x2="181.25" y2="509.0" stroke="#111" stroke-width="1.1"/>
<text x="174.85" y="512.0" font-size="9.2" text-anchor="end" fill="#111" font-weight="normal" stroke="#111" stroke-width="0.3">100</text>
<line x1="198" y1="583.8" x2="198" y2="587.0" stroke="#111" stroke-width="1.1"/>
<line x1="232.5" y1="583.8" x2="232.5" y2="587.0" stroke="#111" stroke-width="1.1"/>
<path d="M221.0,514.15 L221.0,512.45 Q221.0,511.15 222.3,511.15 L241.9,511.15 Q243.2,511.15 243.2,512.45 L243.2,514.15" fill="none" stroke="#111" stroke-width="1.25"/>
<line x1="232.1" y1="511.15" x2="232.1" y2="508.35" stroke="#111" stroke-width="1.2"/>
<polygon points="228.30,501.90 228.84,503.00 230.06,503.18 229.18,504.04 229.39,505.25 228.30,504.68 227.21,505.25 227.42,504.04 226.54,503.18 227.76,503.00" fill="#111"/>
<polygon points="232.10,501.90 232.64,503.00 233.86,503.18 232.98,504.04 233.19,505.25 232.10,504.68 231.01,505.25 231.22,504.04 230.34,503.18 231.56,503.00" fill="#111"/>
<polygon points="235.90,501.90 236.44,503.00 237.66,503.18 236.78,504.04 236.99,505.25 235.90,504.68 234.81,505.25 235.02,504.04 234.14,503.18 235.36,503.00" fill="#111"/>
<text x="198.5" y="598" font-size="9.2" text-anchor="middle" fill="#111" font-weight="normal" stroke="#111" stroke-width="0.3">Media</text>
<text x="233" y="598" font-size="9.2" text-anchor="middle" fill="#111" font-weight="normal" stroke="#111" stroke-width="0.3">OP-9</text>
<text x="0" y="0" font-size="10.6" text-anchor="middle" fill="#222" font-weight="normal" stroke="#222" stroke-width="0.3" textLength="43.75" lengthAdjust="spacingAndGlyphs" transform="translate(153.6,544.38) rotate(-90)">% adhesion</text>
<rect x="187" y="723.75" width="11" height="12.85" fill="#2E4A7E"/>
<rect x="187.4" y="724.15" width="10.2" height="12.85" fill="none" stroke="#24407a" stroke-width="0.8"/>
<line x1="192.5" y1="723.75" x2="192.5" y2="721.25" stroke="#2E4A7E" stroke-width="1.0"/>
<line x1="189.53" y1="721.25" x2="195.47" y2="721.25" stroke="#2E4A7E" stroke-width="1.2"/>
<rect x="198" y="732" width="12" height="4.6" fill="#A50028"/>
<rect x="198.4" y="732.4" width="11.2" height="4.6" fill="none" stroke="#8f0022" stroke-width="0.8"/>
<line x1="204.0" y1="732" x2="204.0" y2="731" stroke="#A50028" stroke-width="1.0"/>
<line x1="200.76" y1="731" x2="207.24" y2="731" stroke="#A50028" stroke-width="1.2"/>
<rect x="221.25" y="673.75" width="11.25" height="62.85" fill="#2E4A7E"/>
<rect x="221.65" y="674.15" width="10.45" height="62.85" fill="none" stroke="#24407a" stroke-width="0.8"/>
<line x1="226.88" y1="673.75" x2="226.88" y2="672" stroke="#2E4A7E" stroke-width="1.0"/>
<line x1="223.84" y1="672" x2="229.91" y2="672" stroke="#2E4A7E" stroke-width="1.2"/>
<rect x="232.5" y="715" width="12.0" height="21.6" fill="#A50028"/>
<rect x="232.9" y="715.4" width="11.2" height="21.6" fill="none" stroke="#8f0022" stroke-width="0.8"/>
<line x1="238.5" y1="715" x2="238.5" y2="712" stroke="#A50028" stroke-width="1.0"/>
<line x1="235.26" y1="712" x2="241.74" y2="712" stroke="#A50028" stroke-width="1.2"/>
<line x1="181.25" y1="657.75" x2="181.25" y2="737.15" stroke="#111" stroke-width="1.3"/>
<line x1="178.05" y1="736.6" x2="252.5" y2="736.6" stroke="#111" stroke-width="1.3"/>
<line x1="178.05" y1="736.6" x2="181.25" y2="736.6" stroke="#111" stroke-width="1.1"/>
<text x="174.85" y="739.6" font-size="9.2" text-anchor="end" fill="#111" font-weight="normal" stroke="#111" stroke-width="0.3">0</text>
<line x1="178.05" y1="717.75" x2="181.25" y2="717.75" stroke="#111" stroke-width="1.1"/>
<text x="174.85" y="720.75" font-size="9.2" text-anchor="end" fill="#111" font-weight="normal" stroke="#111" stroke-width="0.3">25</text>
<line x1="178.05" y1="698.9" x2="181.25" y2="698.9" stroke="#111" stroke-width="1.1"/>
<text x="174.85" y="701.9" font-size="9.2" text-anchor="end" fill="#111" font-weight="normal" stroke="#111" stroke-width="0.3">50</text>
<line x1="178.05" y1="680.05" x2="181.25" y2="680.05" stroke="#111" stroke-width="1.1"/>
<text x="174.85" y="683.05" font-size="9.2" text-anchor="end" fill="#111" font-weight="normal" stroke="#111" stroke-width="0.3">75</text>
<line x1="178.05" y1="661.2" x2="181.25" y2="661.2" stroke="#111" stroke-width="1.1"/>
<text x="174.85" y="664.2" font-size="9.2" text-anchor="end" fill="#111" font-weight="normal" stroke="#111" stroke-width="0.3">100</text>
<line x1="198" y1="736.6" x2="198" y2="739.8" stroke="#111" stroke-width="1.1"/>
<line x1="232.5" y1="736.6" x2="232.5" y2="739.8" stroke="#111" stroke-width="1.1"/>
<path d="M221.5,664.15 L221.5,662.45 Q221.5,661.15 222.8,661.15 L242.6,661.15 Q243.9,661.15 243.9,662.45 L243.9,664.15" fill="none" stroke="#111" stroke-width="1.25"/>
<line x1="232.7" y1="661.15" x2="232.7" y2="658.35" stroke="#111" stroke-width="1.2"/>
<polygon points="228.90,651.90 229.44,653.00 230.66,653.18 229.78,654.04 229.99,655.25 228.90,654.67 227.81,655.25 228.02,654.04 227.14,653.18 228.36,653.00" fill="#111"/>
<polygon points="232.70,651.90 233.24,653.00 234.46,653.18 233.58,654.04 233.79,655.25 232.70,654.67 231.61,655.25 231.82,654.04 230.94,653.18 232.16,653.00" fill="#111"/>
<polygon points="236.50,651.90 237.04,653.00 238.26,653.18 237.38,654.04 237.59,655.25 236.50,654.67 235.41,655.25 235.62,654.04 234.74,653.18 235.96,653.00" fill="#111"/>
<text x="198.5" y="751" font-size="9.2" text-anchor="middle" fill="#111" font-weight="normal" stroke="#111" stroke-width="0.3">Media</text>
<text x="233" y="751" font-size="9.2" text-anchor="middle" fill="#111" font-weight="normal" stroke="#111" stroke-width="0.3">OP-9</text>
<text x="0" y="0" font-size="10.6" text-anchor="middle" fill="#222" font-weight="normal" stroke="#222" stroke-width="0.3" textLength="43.25" lengthAdjust="spacingAndGlyphs" transform="translate(153.6,697.12) rotate(-90)">% adhesion</text>
<rect x="315" y="67" width="9.5" height="61.75" fill="#2E4A7E"/>
<rect x="315.4" y="67.4" width="8.7" height="61.75" fill="none" stroke="#24407a" stroke-width="0.8"/>
<line x1="319.75" y1="67" x2="319.75" y2="65.75" stroke="#2E4A7E" stroke-width="1.0"/>
<line x1="317.19" y1="65.75" x2="322.31" y2="65.75" stroke="#2E4A7E" stroke-width="1.2"/>
<rect x="330" y="73.25" width="9.5" height="55.5" fill="#A50028"/>
<rect x="330.4" y="73.65" width="8.7" height="55.5" fill="none" stroke="#8f0022" stroke-width="0.8"/>
<line x1="334.75" y1="73.25" x2="334.75" y2="67.5" stroke="#A50028" stroke-width="1.0"/>
<line x1="332.19" y1="67.5" x2="337.31" y2="67.5" stroke="#A50028" stroke-width="1.2"/>
<rect x="355" y="112" width="9.5" height="16.75" fill="#2E4A7E"/>
<rect x="355.4" y="112.4" width="8.7" height="16.75" fill="none" stroke="#24407a" stroke-width="0.8"/>
<line x1="359.75" y1="112" x2="359.75" y2="107" stroke="#2E4A7E" stroke-width="1.0"/>
<line x1="357.19" y1="107" x2="362.31" y2="107" stroke="#2E4A7E" stroke-width="1.2"/>
<rect x="370" y="115.5" width="9.5" height="13.25" fill="#A50028"/>
<rect x="370.4" y="115.9" width="8.7" height="13.25" fill="none" stroke="#8f0022" stroke-width="0.8"/>
<line x1="374.75" y1="115.5" x2="374.75" y2="109.5" stroke="#A50028" stroke-width="1.0"/>
<line x1="372.19" y1="109.5" x2="377.31" y2="109.5" stroke="#A50028" stroke-width="1.2"/>
<line x1="307.1" y1="49" x2="307.1" y2="129.3" stroke="#111" stroke-width="1.3"/>
<line x1="303.9" y1="128.75" x2="386.25" y2="128.75" stroke="#111" stroke-width="1.3"/>
<line x1="303.9" y1="128.75" x2="307.1" y2="128.75" stroke="#111" stroke-width="1.1"/>
<text x="300.7" y="131.75" font-size="9.2" text-anchor="end" fill="#111" font-weight="normal" stroke="#111" stroke-width="0.3">0</text>
<line x1="303.9" y1="109.61" x2="307.1" y2="109.61" stroke="#111" stroke-width="1.1"/>
<text x="300.7" y="112.61" font-size="9.2" text-anchor="end" fill="#111" font-weight="normal" stroke="#111" stroke-width="0.3">25</text>
<line x1="303.9" y1="90.47" x2="307.1" y2="90.47" stroke="#111" stroke-width="1.1"/>
<text x="300.7" y="93.47" font-size="9.2" text-anchor="end" fill="#111" font-weight="normal" stroke="#111" stroke-width="0.3">50</text>
<line x1="303.9" y1="71.34" x2="307.1" y2="71.34" stroke="#111" stroke-width="1.1"/>
<text x="300.7" y="74.34" font-size="9.2" text-anchor="end" fill="#111" font-weight="normal" stroke="#111" stroke-width="0.3">75</text>
<line x1="303.9" y1="52.2" x2="307.1" y2="52.2" stroke="#111" stroke-width="1.1"/>
<text x="300.7" y="55.2" font-size="9.2" text-anchor="end" fill="#111" font-weight="normal" stroke="#111" stroke-width="0.3">100</text>
<line x1="327.25" y1="128.75" x2="327.25" y2="131.95" stroke="#111" stroke-width="1.1"/>
<line x1="367.25" y1="128.75" x2="367.25" y2="131.95" stroke="#111" stroke-width="1.1"/>
<path d="M356.35,87.3 L356.35,85.6 Q356.35,84.3 357.65,84.3 L377.8,84.3 Q379.1,84.3 379.1,85.6 L379.1,87.3" fill="none" stroke="#111" stroke-width="1.25"/>
<line x1="367.73" y1="84.3" x2="367.73" y2="81.5" stroke="#111" stroke-width="1.2"/>
<text x="367.73" y="75.8" font-size="8.6" text-anchor="middle" fill="#111" font-weight="normal" stroke="#111" stroke-width="0.3" textLength="11.0" lengthAdjust="spacingAndGlyphs">NS</text>
<text x="327.5" y="143.5" font-size="9.2" text-anchor="middle" fill="#111" font-weight="normal" stroke="#111" stroke-width="0.3">Media</text>
<text x="367" y="143.5" font-size="9.2" text-anchor="middle" fill="#111" font-weight="normal" stroke="#111" stroke-width="0.3">VDL</text>
<text x="367" y="153.5" font-size="9.2" text-anchor="middle" fill="#111" font-weight="normal" stroke="#111" stroke-width="0.3">0.05 μM</text>
<text x="0" y="0" font-size="10.6" text-anchor="middle" fill="#222" font-weight="normal" stroke="#222" stroke-width="0.3" textLength="39" lengthAdjust="spacingAndGlyphs" transform="translate(279,88.5) rotate(-90)">% viability</text>
<rect x="442" y="62.5" width="9.25" height="66.25" fill="#2E4A7E"/>
<rect x="442.4" y="62.9" width="8.45" height="66.25" fill="none" stroke="#24407a" stroke-width="0.8"/>
<line x1="446.62" y1="62.5" x2="446.62" y2="61.25" stroke="#2E4A7E" stroke-width="1.0"/>
<line x1="444.13" y1="61.25" x2="449.12" y2="61.25" stroke="#2E4A7E" stroke-width="1.2"/>
<rect x="456.25" y="73" width="9.5" height="55.75" fill="#A50028"/>
<rect x="456.65" y="73.4" width="8.7" height="55.75" fill="none" stroke="#8f0022" stroke-width="0.8"/>
<line x1="461.0" y1="73" x2="461.0" y2="72" stroke="#A50028" stroke-width="1.0"/>
<line x1="458.44" y1="72" x2="463.56" y2="72" stroke="#A50028" stroke-width="1.2"/>
<rect x="481.25" y="107" width="8.75" height="21.75" fill="#2E4A7E"/>
<rect x="481.65" y="107.4" width="7.95" height="21.75" fill="none" stroke="#24407a" stroke-width="0.8"/>
<line x1="485.62" y1="107" x2="485.62" y2="105" stroke="#2E4A7E" stroke-width="1.0"/>
<line x1="483.26" y1="105" x2="487.99" y2="105" stroke="#2E4A7E" stroke-width="1.2"/>
<rect x="495" y="118.25" width="9.5" height="10.5" fill="#A50028"/>
<rect x="495.4" y="118.65" width="8.7" height="10.5" fill="none" stroke="#8f0022" stroke-width="0.8"/>
<line x1="499.75" y1="118.25" x2="499.75" y2="117.5" stroke="#A50028" stroke-width="1.0"/>
<line x1="497.19" y1="117.5" x2="502.31" y2="117.5" stroke="#A50028" stroke-width="1.2"/>
<line x1="434.5" y1="49" x2="434.5" y2="129.3" stroke="#111" stroke-width="1.3"/>
<line x1="431.3" y1="128.75" x2="512" y2="128.75" stroke="#111" stroke-width="1.3"/>
<line x1="431.3" y1="128.75" x2="434.5" y2="128.75" stroke="#111" stroke-width="1.1"/>
<text x="428.1" y="131.75" font-size="9.2" text-anchor="end" fill="#111" font-weight="normal" stroke="#111" stroke-width="0.3">0</text>
<line x1="431.3" y1="109.56" x2="434.5" y2="109.56" stroke="#111" stroke-width="1.1"/>
<text x="428.1" y="112.56" font-size="9.2" text-anchor="end" fill="#111" font-weight="normal" stroke="#111" stroke-width="0.3">25</text>
<line x1="431.3" y1="90.38" x2="434.5" y2="90.38" stroke="#111" stroke-width="1.1"/>
<text x="428.1" y="93.38" font-size="9.2" text-anchor="end" fill="#111" font-weight="normal" stroke="#111" stroke-width="0.3">50</text>
<line x1="431.3" y1="71.19" x2="434.5" y2="71.19" stroke="#111" stroke-width="1.1"/>
<text x="428.1" y="74.19" font-size="9.2" text-anchor="end" fill="#111" font-weight="normal" stroke="#111" stroke-width="0.3">75</text>
<line x1="431.3" y1="52.0" x2="434.5" y2="52.0" stroke="#111" stroke-width="1.1"/>
<text x="428.1" y="55.0" font-size="9.2" text-anchor="end" fill="#111" font-weight="normal" stroke="#111" stroke-width="0.3">100</text>
<line x1="453.75" y1="128.75" x2="453.75" y2="131.95" stroke="#111" stroke-width="1.1"/>
<line x1="492.75" y1="128.75" x2="492.75" y2="131.95" stroke="#111" stroke-width="1.1"/>
<path d="M440.0,57.3 L440.0,55.6 Q440.0,54.3 441.3,54.3 L460.7,54.3 Q462.0,54.3 462.0,55.6 L462.0,57.3" fill="none" stroke="#111" stroke-width="1.25"/>
<line x1="451.0" y1="54.3" x2="451.0" y2="51.5" stroke="#111" stroke-width="1.2"/>
<polygon points="451.00,44.85 451.54,45.95 452.76,46.13 451.88,46.99 452.09,48.20 451.00,47.62 449.91,48.20 450.12,46.99 449.24,46.13 450.46,45.95" fill="#111"/>
<path d="M480.6,87.1 L480.6,85.4 Q480.6,84.1 481.9,84.1 L501.7,84.1 Q503.0,84.1 503.0,85.4 L503.0,87.1" fill="none" stroke="#111" stroke-width="1.25"/>
<line x1="491.8" y1="84.1" x2="491.8" y2="81.3" stroke="#111" stroke-width="1.2"/>
<polygon points="491.80,74.85 492.34,75.95 493.56,76.13 492.68,76.99 492.89,78.20 491.80,77.62 490.71,78.20 490.92,76.99 490.04,76.13 491.26,75.95" fill="#111"/>
<text x="453.75" y="143.5" font-size="9.2" text-anchor="middle" fill="#111" font-weight="normal" stroke="#111" stroke-width="0.3">Media</text>
<text x="492.5" y="143.5" font-size="9.2" text-anchor="middle" fill="#111" font-weight="normal" stroke="#111" stroke-width="0.3">VDL</text>
<text x="492" y="153.5" font-size="9.2" text-anchor="middle" fill="#111" font-weight="normal" stroke="#111" stroke-width="0.3">0.05 μM</text>
<text x="0" y="0" font-size="10.6" text-anchor="middle" fill="#222" font-weight="normal" stroke="#222" stroke-width="0.3" textLength="38.75" lengthAdjust="spacingAndGlyphs" transform="translate(407,89.38) rotate(-90)">% viability</text>
<rect x="314.5" y="231.25" width="9.25" height="53.95" fill="#2E4A7E"/>
<rect x="314.9" y="231.65" width="8.45" height="53.95" fill="none" stroke="#24407a" stroke-width="0.8"/>
<line x1="319.12" y1="231.25" x2="319.12" y2="230" stroke="#2E4A7E" stroke-width="1.0"/>
<line x1="316.63" y1="230" x2="321.62" y2="230" stroke="#2E4A7E" stroke-width="1.2"/>
<rect x="328.75" y="233.75" width="9.5" height="51.45" fill="#A50028"/>
<rect x="329.15" y="234.15" width="8.7" height="51.45" fill="none" stroke="#8f0022" stroke-width="0.8"/>
<line x1="333.5" y1="233.75" x2="333.5" y2="233" stroke="#A50028" stroke-width="1.0"/>
<line x1="330.94" y1="233" x2="336.06" y2="233" stroke="#A50028" stroke-width="1.2"/>
<rect x="352.5" y="258" width="9.5" height="27.2" fill="#2E4A7E"/>
<rect x="352.9" y="258.4" width="8.7" height="27.2" fill="none" stroke="#24407a" stroke-width="0.8"/>
<line x1="357.25" y1="258" x2="357.25" y2="257.5" stroke="#2E4A7E" stroke-width="1.0"/>
<line x1="354.69" y1="257.5" x2="359.81" y2="257.5" stroke="#2E4A7E" stroke-width="1.2"/>
<rect x="367" y="253" width="9.25" height="32.2" fill="#A50028"/>
<rect x="367.4" y="253.4" width="8.45" height="32.2" fill="none" stroke="#8f0022" stroke-width="0.8"/>
<line x1="371.62" y1="253" x2="371.62" y2="252" stroke="#A50028" stroke-width="1.0"/>
<line x1="369.13" y1="252" x2="374.12" y2="252" stroke="#A50028" stroke-width="1.2"/>
<line x1="307.3" y1="207.5" x2="307.3" y2="285.75" stroke="#111" stroke-width="1.3"/>
<line x1="304.1" y1="285.2" x2="383.75" y2="285.2" stroke="#111" stroke-width="1.3"/>
<line x1="304.1" y1="285.2" x2="307.3" y2="285.2" stroke="#111" stroke-width="1.1"/>
<text x="300.9" y="288.2" font-size="9.2" text-anchor="end" fill="#111" font-weight="normal" stroke="#111" stroke-width="0.3">0</text>
<line x1="304.1" y1="266.38" x2="307.3" y2="266.38" stroke="#111" stroke-width="1.1"/>
<text x="300.9" y="269.38" font-size="9.2" text-anchor="end" fill="#111" font-weight="normal" stroke="#111" stroke-width="0.3">25</text>
<line x1="304.1" y1="247.55" x2="307.3" y2="247.55" stroke="#111" stroke-width="1.1"/>
<text x="300.9" y="250.55" font-size="9.2" text-anchor="end" fill="#111" font-weight="normal" stroke="#111" stroke-width="0.3">50</text>
<line x1="304.1" y1="228.72" x2="307.3" y2="228.72" stroke="#111" stroke-width="1.1"/>
<text x="300.9" y="231.72" font-size="9.2" text-anchor="end" fill="#111" font-weight="normal" stroke="#111" stroke-width="0.3">75</text>
<line x1="304.1" y1="209.9" x2="307.3" y2="209.9" stroke="#111" stroke-width="1.1"/>
<text x="300.9" y="212.9" font-size="9.2" text-anchor="end" fill="#111" font-weight="normal" stroke="#111" stroke-width="0.3">100</text>
<line x1="326.5" y1="285.2" x2="326.5" y2="288.4" stroke="#111" stroke-width="1.1"/>
<line x1="364.5" y1="285.2" x2="364.5" y2="288.4" stroke="#111" stroke-width="1.1"/>
<path d="M352.7,246 L352.7,244.3 Q352.7,243 354,243 L373.6,243 Q374.9,243 374.9,244.3 L374.9,246" fill="none" stroke="#111" stroke-width="1.25"/>
<line x1="363.8" y1="243" x2="363.8" y2="240.2" stroke="#111" stroke-width="1.2"/>
<text x="363.8" y="235.1" font-size="8.6" text-anchor="middle" fill="#111" font-weight="normal" stroke="#111" stroke-width="0.3" textLength="11.0" lengthAdjust="spacingAndGlyphs">NS</text>
<text x="326.25" y="299.5" font-size="9.2" text-anchor="middle" fill="#111" font-weight="normal" stroke="#111" stroke-width="0.3">Media</text>
<text x="364" y="299.5" font-size="9.2" text-anchor="middle" fill="#111" font-weight="normal" stroke="#111" stroke-width="0.3">VDL</text>
<text x="364.4" y="309.5" font-size="9.2" text-anchor="middle" fill="#111" font-weight="normal" stroke="#111" stroke-width="0.3">0.001 μM</text>
<text x="0" y="0" font-size="10.6" text-anchor="middle" fill="#222" font-weight="normal" stroke="#222" stroke-width="0.3" textLength="38.25" lengthAdjust="spacingAndGlyphs" transform="translate(279,245.38) rotate(-90)">% viability</text>
<rect x="442" y="230" width="9.25" height="55.2" fill="#2E4A7E"/>
<rect x="442.4" y="230.4" width="8.45" height="55.2" fill="none" stroke="#24407a" stroke-width="0.8"/>
<line x1="446.62" y1="230" x2="446.62" y2="228.75" stroke="#2E4A7E" stroke-width="1.0"/>
<line x1="444.13" y1="228.75" x2="449.12" y2="228.75" stroke="#2E4A7E" stroke-width="1.2"/>
<rect x="456.25" y="230.5" width="9.5" height="54.7" fill="#A50028"/>
<rect x="456.65" y="230.9" width="8.7" height="54.7" fill="none" stroke="#8f0022" stroke-width="0.8"/>
<line x1="461.0" y1="230.5" x2="461.0" y2="229.5" stroke="#A50028" stroke-width="1.0"/>
<line x1="458.44" y1="229.5" x2="463.56" y2="229.5" stroke="#A50028" stroke-width="1.2"/>
<rect x="481.25" y="257" width="8.75" height="28.2" fill="#2E4A7E"/>
<rect x="481.65" y="257.4" width="7.95" height="28.2" fill="none" stroke="#24407a" stroke-width="0.8"/>
<line x1="485.62" y1="257" x2="485.62" y2="255.5" stroke="#2E4A7E" stroke-width="1.0"/>
<line x1="483.26" y1="255.5" x2="487.99" y2="255.5" stroke="#2E4A7E" stroke-width="1.2"/>
<rect x="495" y="263.75" width="9.5" height="21.45" fill="#A50028"/>
<rect x="495.4" y="264.15" width="8.7" height="21.45" fill="none" stroke="#8f0022" stroke-width="0.8"/>
<line x1="499.75" y1="263.75" x2="499.75" y2="263" stroke="#A50028" stroke-width="1.0"/>
<line x1="497.19" y1="263" x2="502.31" y2="263" stroke="#A50028" stroke-width="1.2"/>
<line x1="434.6" y1="207.5" x2="434.6" y2="285.75" stroke="#111" stroke-width="1.3"/>
<line x1="431.4" y1="285.2" x2="512" y2="285.2" stroke="#111" stroke-width="1.3"/>
<line x1="431.4" y1="285.2" x2="434.6" y2="285.2" stroke="#111" stroke-width="1.1"/>
<text x="428.2" y="288.2" font-size="9.2" text-anchor="end" fill="#111" font-weight="normal" stroke="#111" stroke-width="0.3">0</text>
<line x1="431.4" y1="266.38" x2="434.6" y2="266.38" stroke="#111" stroke-width="1.1"/>
<text x="428.2" y="269.38" font-size="9.2" text-anchor="end" fill="#111" font-weight="normal" stroke="#111" stroke-width="0.3">25</text>
<line x1="431.4" y1="247.55" x2="434.6" y2="247.55" stroke="#111" stroke-width="1.1"/>
<text x="428.2" y="250.55" font-size="9.2" text-anchor="end" fill="#111" font-weight="normal" stroke="#111" stroke-width="0.3">50</text>
<line x1="431.4" y1="228.72" x2="434.6" y2="228.72" stroke="#111" stroke-width="1.1"/>
<text x="428.2" y="231.72" font-size="9.2" text-anchor="end" fill="#111" font-weight="normal" stroke="#111" stroke-width="0.3">75</text>
<line x1="431.4" y1="209.9" x2="434.6" y2="209.9" stroke="#111" stroke-width="1.1"/>
<text x="428.2" y="212.9" font-size="9.2" text-anchor="end" fill="#111" font-weight="normal" stroke="#111" stroke-width="0.3">100</text>
<line x1="453.75" y1="285.2" x2="453.75" y2="288.4" stroke="#111" stroke-width="1.1"/>
<line x1="492.75" y1="285.2" x2="492.75" y2="288.4" stroke="#111" stroke-width="1.1"/>
<path d="M441.8,211.3 L441.8,209.6 Q441.8,208.3 443.1,208.3 L462.7,208.3 Q464.0,208.3 464.0,209.6 L464.0,211.3" fill="none" stroke="#111" stroke-width="1.25"/>
<line x1="452.9" y1="208.3" x2="452.9" y2="205.5" stroke="#111" stroke-width="1.2"/>
<text x="452.9" y="201.8" font-size="8.6" text-anchor="middle" fill="#111" font-weight="normal" stroke="#111" stroke-width="0.3" textLength="11.0" lengthAdjust="spacingAndGlyphs">NS</text>
<path d="M479.6,245.3 L479.6,243.6 Q479.6,242.3 480.9,242.3 L500.7,242.3 Q502.0,242.3 502.0,243.6 L502.0,245.3" fill="none" stroke="#111" stroke-width="1.25"/>
<line x1="490.8" y1="242.3" x2="490.8" y2="239.5" stroke="#111" stroke-width="1.2"/>
<polygon points="487.00,233.05 487.54,234.15 488.76,234.33 487.88,235.19 488.09,236.40 487.00,235.83 485.91,236.40 486.12,235.19 485.24,234.33 486.46,234.15" fill="#111"/>
<polygon points="490.80,233.05 491.34,234.15 492.56,234.33 491.68,235.19 491.89,236.40 490.80,235.83 489.71,236.40 489.92,235.19 489.04,234.33 490.26,234.15" fill="#111"/>
<polygon points="494.60,233.05 495.14,234.15 496.36,234.33 495.48,235.19 495.69,236.40 494.60,235.83 493.51,236.40 493.72,235.19 492.84,234.33 494.06,234.15" fill="#111"/>
<text x="454.5" y="299.5" font-size="9.2" text-anchor="middle" fill="#111" font-weight="normal" stroke="#111" stroke-width="0.3">Media</text>
<text x="492.9" y="299.5" font-size="9.2" text-anchor="middle" fill="#111" font-weight="normal" stroke="#111" stroke-width="0.3">VDL</text>
<text x="492.9" y="309.5" font-size="9.2" text-anchor="middle" fill="#111" font-weight="normal" stroke="#111" stroke-width="0.3">0.001 μM</text>
<text x="0" y="0" font-size="10.6" text-anchor="middle" fill="#222" font-weight="normal" stroke="#222" stroke-width="0.3" textLength="38.5" lengthAdjust="spacingAndGlyphs" transform="translate(407,246.25) rotate(-90)">% viability</text>
<rect x="314.5" y="370" width="9.25" height="64.5" fill="#2E4A7E"/>
<rect x="314.9" y="370.4" width="8.45" height="64.5" fill="none" stroke="#24407a" stroke-width="0.8"/>
<line x1="319.12" y1="370" x2="319.12" y2="364.5" stroke="#2E4A7E" stroke-width="1.0"/>
<line x1="316.63" y1="364.5" x2="321.62" y2="364.5" stroke="#2E4A7E" stroke-width="1.2"/>
<rect x="328.75" y="373" width="9.5" height="61.5" fill="#A50028"/>
<rect x="329.15" y="373.4" width="8.7" height="61.5" fill="none" stroke="#8f0022" stroke-width="0.8"/>
<line x1="333.5" y1="373" x2="333.5" y2="372.5" stroke="#A50028" stroke-width="1.0"/>
<line x1="330.94" y1="372.5" x2="336.06" y2="372.5" stroke="#A50028" stroke-width="1.2"/>
<rect x="353" y="423.75" width="9" height="10.75" fill="#2E4A7E"/>
<rect x="353.4" y="424.15" width="8.2" height="10.75" fill="none" stroke="#24407a" stroke-width="0.8"/>
<line x1="357.5" y1="423.75" x2="357.5" y2="421.25" stroke="#2E4A7E" stroke-width="1.0"/>
<line x1="355.07" y1="421.25" x2="359.93" y2="421.25" stroke="#2E4A7E" stroke-width="1.2"/>
<rect x="367" y="428" width="9.25" height="6.5" fill="#A50028"/>
<rect x="367.4" y="428.4" width="8.45" height="6.5" fill="none" stroke="#8f0022" stroke-width="0.8"/>
<line x1="371.62" y1="428" x2="371.62" y2="427.5" stroke="#A50028" stroke-width="1.0"/>
<line x1="369.13" y1="427.5" x2="374.12" y2="427.5" stroke="#A50028" stroke-width="1.2"/>
<line x1="307.1" y1="357" x2="307.1" y2="435.05" stroke="#111" stroke-width="1.3"/>
<line x1="303.9" y1="434.5" x2="383.75" y2="434.5" stroke="#111" stroke-width="1.3"/>
<line x1="303.9" y1="434.5" x2="307.1" y2="434.5" stroke="#111" stroke-width="1.1"/>
<text x="300.7" y="437.5" font-size="9.2" text-anchor="end" fill="#111" font-weight="normal" stroke="#111" stroke-width="0.3">0</text>
<line x1="303.9" y1="415.75" x2="307.1" y2="415.75" stroke="#111" stroke-width="1.1"/>
<text x="300.7" y="418.75" font-size="9.2" text-anchor="end" fill="#111" font-weight="normal" stroke="#111" stroke-width="0.3">25</text>
<line x1="303.9" y1="397.0" x2="307.1" y2="397.0" stroke="#111" stroke-width="1.1"/>
<text x="300.7" y="400.0" font-size="9.2" text-anchor="end" fill="#111" font-weight="normal" stroke="#111" stroke-width="0.3">50</text>
<line x1="303.9" y1="378.25" x2="307.1" y2="378.25" stroke="#111" stroke-width="1.1"/>
<text x="300.7" y="381.25" font-size="9.2" text-anchor="end" fill="#111" font-weight="normal" stroke="#111" stroke-width="0.3">75</text>
<line x1="303.9" y1="359.5" x2="307.1" y2="359.5" stroke="#111" stroke-width="1.1"/>
<text x="300.7" y="362.5" font-size="9.2" text-anchor="end" fill="#111" font-weight="normal" stroke="#111" stroke-width="0.3">100</text>
<line x1="326.5" y1="434.5" x2="326.5" y2="437.7" stroke="#111" stroke-width="1.1"/>
<line x1="364.5" y1="434.5" x2="364.5" y2="437.7" stroke="#111" stroke-width="1.1"/>
<path d="M351.3,399.15 L351.3,397.45 Q351.3,396.15 352.6,396.15 L372.2,396.15 Q373.5,396.15 373.5,397.45 L373.5,399.15" fill="none" stroke="#111" stroke-width="1.25"/>
<line x1="362.4" y1="396.15" x2="362.4" y2="393.35" stroke="#111" stroke-width="1.2"/>
<text x="362.4" y="388.1" font-size="8.6" text-anchor="middle" fill="#111" font-weight="normal" stroke="#111" stroke-width="0.3" textLength="11.0" lengthAdjust="spacingAndGlyphs">NS</text>
<text x="326.5" y="449.5" font-size="9.2" text-anchor="middle" fill="#111" font-weight="normal" stroke="#111" stroke-width="0.3">DMSO</text>
<text x="365.6" y="449.5" font-size="9.2" text-anchor="middle" fill="#111" font-weight="normal" stroke="#111" stroke-width="0.3">NTB</text>
<text x="365" y="459.5" font-size="9.2" text-anchor="middle" fill="#111" font-weight="normal" stroke="#111" stroke-width="0.3">0.2 μM</text>
<text x="0" y="0" font-size="10.6" text-anchor="middle" fill="#222" font-weight="normal" stroke="#222" stroke-width="0.3" textLength="38.75" lengthAdjust="spacingAndGlyphs" transform="translate(279,395.62) rotate(-90)">% viability</text>
<rect x="442" y="369.5" width="9.25" height="65.0" fill="#2E4A7E"/>
<rect x="442.4" y="369.9" width="8.45" height="65.0" fill="none" stroke="#24407a" stroke-width="0.8"/>
<line x1="446.62" y1="369.5" x2="446.62" y2="368.75" stroke="#2E4A7E" stroke-width="1.0"/>
<line x1="444.13" y1="368.75" x2="449.12" y2="368.75" stroke="#2E4A7E" stroke-width="1.2"/>
<rect x="456.25" y="380" width="9.5" height="54.5" fill="#A50028"/>
<rect x="456.65" y="380.4" width="8.7" height="54.5" fill="none" stroke="#8f0022" stroke-width="0.8"/>
<line x1="461.0" y1="380" x2="461.0" y2="379.25" stroke="#A50028" stroke-width="1.0"/>
<line x1="458.44" y1="379.25" x2="463.56" y2="379.25" stroke="#A50028" stroke-width="1.2"/>
<rect x="481.25" y="420" width="8.75" height="14.5" fill="#2E4A7E"/>
<rect x="481.65" y="420.4" width="7.95" height="14.5" fill="none" stroke="#24407a" stroke-width="0.8"/>
<line x1="485.62" y1="420" x2="485.62" y2="418.75" stroke="#2E4A7E" stroke-width="1.0"/>
<line x1="483.26" y1="418.75" x2="487.99" y2="418.75" stroke="#2E4A7E" stroke-width="1.2"/>
<rect x="495" y="425" width="9.5" height="9.5" fill="#A50028"/>
<rect x="495.4" y="425.4" width="8.7" height="9.5" fill="none" stroke="#8f0022" stroke-width="0.8"/>
<line x1="499.75" y1="425" x2="499.75" y2="424.5" stroke="#A50028" stroke-width="1.0"/>
<line x1="497.19" y1="424.5" x2="502.31" y2="424.5" stroke="#A50028" stroke-width="1.2"/>
<line x1="434.5" y1="357" x2="434.5" y2="435.05" stroke="#111" stroke-width="1.3"/>
<line x1="431.3" y1="434.5" x2="512" y2="434.5" stroke="#111" stroke-width="1.3"/>
<line x1="431.3" y1="434.5" x2="434.5" y2="434.5" stroke="#111" stroke-width="1.1"/>
<text x="428.1" y="437.5" font-size="9.2" text-anchor="end" fill="#111" font-weight="normal" stroke="#111" stroke-width="0.3">0</text>
<line x1="431.3" y1="415.75" x2="434.5" y2="415.75" stroke="#111" stroke-width="1.1"/>
<text x="428.1" y="418.75" font-size="9.2" text-anchor="end" fill="#111" font-weight="normal" stroke="#111" stroke-width="0.3">25</text>
<line x1="431.3" y1="397.0" x2="434.5" y2="397.0" stroke="#111" stroke-width="1.1"/>
<text x="428.1" y="400.0" font-size="9.2" text-anchor="end" fill="#111" font-weight="normal" stroke="#111" stroke-width="0.3">50</text>
<line x1="431.3" y1="378.25" x2="434.5" y2="378.25" stroke="#111" stroke-width="1.1"/>
<text x="428.1" y="381.25" font-size="9.2" text-anchor="end" fill="#111" font-weight="normal" stroke="#111" stroke-width="0.3">75</text>
<line x1="431.3" y1="359.5" x2="434.5" y2="359.5" stroke="#111" stroke-width="1.1"/>
<text x="428.1" y="362.5" font-size="9.2" text-anchor="end" fill="#111" font-weight="normal" stroke="#111" stroke-width="0.3">100</text>
<line x1="453.75" y1="434.5" x2="453.75" y2="437.7" stroke="#111" stroke-width="1.1"/>
<line x1="492.75" y1="434.5" x2="492.75" y2="437.7" stroke="#111" stroke-width="1.1"/>
<path d="M443.8,364.4 L443.8,362.7 Q443.8,361.4 445.1,361.4 L464.7,361.4 Q466.0,361.4 466.0,362.7 L466.0,364.4" fill="none" stroke="#111" stroke-width="1.25"/>
<line x1="454.9" y1="361.4" x2="454.9" y2="358.6" stroke="#111" stroke-width="1.2"/>
<polygon points="449.20,352.20 449.74,353.30 450.96,353.48 450.08,354.34 450.29,355.55 449.20,354.97 448.11,355.55 448.32,354.34 447.44,353.48 448.66,353.30" fill="#111"/>
<polygon points="453.00,352.20 453.54,353.30 454.76,353.48 453.88,354.34 454.09,355.55 453.00,354.97 451.91,355.55 452.12,354.34 451.24,353.48 452.46,353.30" fill="#111"/>
<polygon points="456.80,352.20 457.34,353.30 458.56,353.48 457.68,354.34 457.89,355.55 456.80,354.97 455.71,355.55 455.92,354.34 455.04,353.48 456.26,353.30" fill="#111"/>
<polygon points="460.60,352.20 461.14,353.30 462.36,353.48 461.48,354.34 461.69,355.55 460.60,354.97 459.51,355.55 459.72,354.34 458.84,353.48 460.06,353.30" fill="#111"/>
<path d="M481.8,396.3 L481.8,394.6 Q481.8,393.3 483.1,393.3 L502.7,393.3 Q504.0,393.3 504.0,394.6 L504.0,396.3" fill="none" stroke="#111" stroke-width="1.25"/>
<line x1="492.9" y1="393.3" x2="492.9" y2="390.5" stroke="#111" stroke-width="1.2"/>
<polygon points="491.00,384.55 491.54,385.65 492.76,385.83 491.88,386.69 492.09,387.90 491.00,387.33 489.91,387.90 490.12,386.69 489.24,385.83 490.46,385.65" fill="#111"/>
<polygon points="494.80,384.55 495.34,385.65 496.56,385.83 495.68,386.69 495.89,387.90 494.80,387.33 493.71,387.90 493.92,386.69 493.04,385.83 494.26,385.65" fill="#111"/>
<text x="454.25" y="449.5" font-size="9.2" text-anchor="middle" fill="#111" font-weight="normal" stroke="#111" stroke-width="0.3">DMSO</text>
<text x="492.5" y="449.5" font-size="9.2" text-anchor="middle" fill="#111" font-weight="normal" stroke="#111" stroke-width="0.3">NTB</text>
<text x="492.9" y="459.5" font-size="9.2" text-anchor="middle" fill="#111" font-weight="normal" stroke="#111" stroke-width="0.3">0.2 μM</text>
<text x="0" y="0" font-size="10.6" text-anchor="middle" fill="#222" font-weight="normal" stroke="#222" stroke-width="0.3" textLength="38" lengthAdjust="spacingAndGlyphs" transform="translate(407,396.0) rotate(-90)">% viability</text>
<rect x="314.5" y="532" width="9.25" height="51.8" fill="#2E4A7E"/>
<rect x="314.9" y="532.4" width="8.45" height="51.8" fill="none" stroke="#24407a" stroke-width="0.8"/>
<line x1="319.12" y1="532" x2="319.12" y2="530.75" stroke="#2E4A7E" stroke-width="1.0"/>
<line x1="316.63" y1="530.75" x2="321.62" y2="530.75" stroke="#2E4A7E" stroke-width="1.2"/>
<rect x="328.75" y="531.25" width="9.5" height="52.55" fill="#A50028"/>
<rect x="329.15" y="531.65" width="8.7" height="52.55" fill="none" stroke="#8f0022" stroke-width="0.8"/>
<line x1="333.5" y1="531.25" x2="333.5" y2="529.5" stroke="#A50028" stroke-width="1.0"/>
<line x1="330.94" y1="529.5" x2="336.06" y2="529.5" stroke="#A50028" stroke-width="1.2"/>
<rect x="353" y="548" width="9.5" height="35.8" fill="#2E4A7E"/>
<rect x="353.4" y="548.4" width="8.7" height="35.8" fill="none" stroke="#24407a" stroke-width="0.8"/>
<line x1="357.75" y1="548" x2="357.75" y2="545.5" stroke="#2E4A7E" stroke-width="1.0"/>
<line x1="355.19" y1="545.5" x2="360.31" y2="545.5" stroke="#2E4A7E" stroke-width="1.2"/>
<rect x="367.5" y="547.5" width="9.5" height="36.3" fill="#A50028"/>
<rect x="367.9" y="547.9" width="8.7" height="36.3" fill="none" stroke="#8f0022" stroke-width="0.8"/>
<line x1="372.25" y1="547.5" x2="372.25" y2="546.25" stroke="#A50028" stroke-width="1.0"/>
<line x1="369.69" y1="546.25" x2="374.81" y2="546.25" stroke="#A50028" stroke-width="1.2"/>
<line x1="307.2" y1="503" x2="307.2" y2="584.35" stroke="#111" stroke-width="1.3"/>
<line x1="304.0" y1="583.8" x2="383.75" y2="583.8" stroke="#111" stroke-width="1.3"/>
<line x1="304.0" y1="583.8" x2="307.2" y2="583.8" stroke="#111" stroke-width="1.1"/>
<text x="300.8" y="586.8" font-size="9.2" text-anchor="end" fill="#111" font-weight="normal" stroke="#111" stroke-width="0.3">0</text>
<line x1="304.0" y1="564.52" x2="307.2" y2="564.52" stroke="#111" stroke-width="1.1"/>
<text x="300.8" y="567.52" font-size="9.2" text-anchor="end" fill="#111" font-weight="normal" stroke="#111" stroke-width="0.3">25</text>
<line x1="304.0" y1="545.25" x2="307.2" y2="545.25" stroke="#111" stroke-width="1.1"/>
<text x="300.8" y="548.25" font-size="9.2" text-anchor="end" fill="#111" font-weight="normal" stroke="#111" stroke-width="0.3">50</text>
<line x1="304.0" y1="525.98" x2="307.2" y2="525.98" stroke="#111" stroke-width="1.1"/>
<text x="300.8" y="528.98" font-size="9.2" text-anchor="end" fill="#111" font-weight="normal" stroke="#111" stroke-width="0.3">75</text>
<line x1="304.0" y1="506.7" x2="307.2" y2="506.7" stroke="#111" stroke-width="1.1"/>
<text x="300.8" y="509.7" font-size="9.2" text-anchor="end" fill="#111" font-weight="normal" stroke="#111" stroke-width="0.3">100</text>
<line x1="326.5" y1="583.8" x2="326.5" y2="587.0" stroke="#111" stroke-width="1.1"/>
<line x1="364.5" y1="583.8" x2="364.5" y2="587.0" stroke="#111" stroke-width="1.1"/>
<path d="M351.6,540.8 L351.6,539.1 Q351.6,537.8 352.9,537.8 L372.7,537.8 Q374.0,537.8 374.0,539.1 L374.0,540.8" fill="none" stroke="#111" stroke-width="1.25"/>
<line x1="362.8" y1="537.8" x2="362.8" y2="535.0" stroke="#111" stroke-width="1.2"/>
<text x="362.8" y="530.8" font-size="8.6" text-anchor="middle" fill="#111" font-weight="normal" stroke="#111" stroke-width="0.3" textLength="11.0" lengthAdjust="spacingAndGlyphs">NS</text>
<text x="326.5" y="598.75" font-size="9.2" text-anchor="middle" fill="#111" font-weight="normal" stroke="#111" stroke-width="0.3">DMSO</text>
<text x="364.5" y="598.75" font-size="9.2" text-anchor="middle" fill="#111" font-weight="normal" stroke="#111" stroke-width="0.3">NTB 5 μM</text>
<text x="0" y="0" font-size="10.6" text-anchor="middle" fill="#222" font-weight="normal" stroke="#222" stroke-width="0.3" textLength="39.5" lengthAdjust="spacingAndGlyphs" transform="translate(279,542.75) rotate(-90)">% viability</text>
<rect x="442" y="530.5" width="9.25" height="53.7" fill="#2E4A7E"/>
<rect x="442.4" y="530.9" width="8.45" height="53.7" fill="none" stroke="#24407a" stroke-width="0.8"/>
<line x1="446.62" y1="530.5" x2="446.62" y2="529.5" stroke="#2E4A7E" stroke-width="1.0"/>
<line x1="444.13" y1="529.5" x2="449.12" y2="529.5" stroke="#2E4A7E" stroke-width="1.2"/>
<rect x="456.25" y="537" width="9.5" height="47.2" fill="#A50028"/>
<rect x="456.65" y="537.4" width="8.7" height="47.2" fill="none" stroke="#8f0022" stroke-width="0.8"/>
<line x1="461.0" y1="537" x2="461.0" y2="536.25" stroke="#A50028" stroke-width="1.0"/>
<line x1="458.44" y1="536.25" x2="463.56" y2="536.25" stroke="#A50028" stroke-width="1.2"/>
<rect x="481.25" y="553" width="8.75" height="31.2" fill="#2E4A7E"/>
<rect x="481.65" y="553.4" width="7.95" height="31.2" fill="none" stroke="#24407a" stroke-width="0.8"/>
<line x1="485.62" y1="553" x2="485.62" y2="550.5" stroke="#2E4A7E" stroke-width="1.0"/>
<line x1="483.26" y1="550.5" x2="487.99" y2="550.5" stroke="#2E4A7E" stroke-width="1.2"/>
<rect x="495" y="560.5" width="9.5" height="23.7" fill="#A50028"/>
<rect x="495.4" y="560.9" width="8.7" height="23.7" fill="none" stroke="#8f0022" stroke-width="0.8"/>
<line x1="499.75" y1="560.5" x2="499.75" y2="560" stroke="#A50028" stroke-width="1.0"/>
<line x1="497.19" y1="560" x2="502.31" y2="560" stroke="#A50028" stroke-width="1.2"/>
<line x1="435" y1="505" x2="435" y2="584.75" stroke="#111" stroke-width="1.3"/>
<line x1="431.8" y1="584.2" x2="512" y2="584.2" stroke="#111" stroke-width="1.3"/>
<line x1="431.8" y1="584.2" x2="435" y2="584.2" stroke="#111" stroke-width="1.1"/>
<text x="428.6" y="587.2" font-size="9.2" text-anchor="end" fill="#111" font-weight="normal" stroke="#111" stroke-width="0.3">0</text>
<line x1="431.8" y1="565.05" x2="435" y2="565.05" stroke="#111" stroke-width="1.1"/>
<text x="428.6" y="568.05" font-size="9.2" text-anchor="end" fill="#111" font-weight="normal" stroke="#111" stroke-width="0.3">25</text>
<line x1="431.8" y1="545.9" x2="435" y2="545.9" stroke="#111" stroke-width="1.1"/>
<text x="428.6" y="548.9" font-size="9.2" text-anchor="end" fill="#111" font-weight="normal" stroke="#111" stroke-width="0.3">50</text>
<line x1="431.8" y1="526.75" x2="435" y2="526.75" stroke="#111" stroke-width="1.1"/>
<text x="428.6" y="529.75" font-size="9.2" text-anchor="end" fill="#111" font-weight="normal" stroke="#111" stroke-width="0.3">75</text>
<line x1="431.8" y1="507.6" x2="435" y2="507.6" stroke="#111" stroke-width="1.1"/>
<text x="428.6" y="510.6" font-size="9.2" text-anchor="end" fill="#111" font-weight="normal" stroke="#111" stroke-width="0.3">100</text>
<line x1="453.75" y1="584.2" x2="453.75" y2="587.4" stroke="#111" stroke-width="1.1"/>
<line x1="492.75" y1="584.2" x2="492.75" y2="587.4" stroke="#111" stroke-width="1.1"/>
<path d="M442.5,513.4 L442.5,511.7 Q442.5,510.4 443.8,510.4 L463.2,510.4 Q464.5,510.4 464.5,511.7 L464.5,513.4" fill="none" stroke="#111" stroke-width="1.25"/>
<line x1="453.5" y1="510.4" x2="453.5" y2="507.6" stroke="#111" stroke-width="1.2"/>
<polygon points="451.60,501.35 452.14,502.45 453.36,502.63 452.48,503.49 452.69,504.70 451.60,504.12 450.51,504.70 450.72,503.49 449.84,502.63 451.06,502.45" fill="#111"/>
<polygon points="455.40,501.35 455.94,502.45 457.16,502.63 456.28,503.49 456.49,504.70 455.40,504.12 454.31,504.70 454.52,503.49 453.64,502.63 454.86,502.45" fill="#111"/>
<path d="M483.6,541.5 L483.6,539.8 Q483.6,538.5 484.9,538.5 L504.7,538.5 Q506.0,538.5 506.0,539.8 L506.0,541.5" fill="none" stroke="#111" stroke-width="1.25"/>
<line x1="494.8" y1="538.5" x2="494.8" y2="535.7" stroke="#111" stroke-width="1.2"/>
<polygon points="491.00,529.35 491.54,530.45 492.76,530.63 491.88,531.49 492.09,532.70 491.00,532.12 489.91,532.70 490.12,531.49 489.24,530.63 490.46,530.45" fill="#111"/>
<polygon points="494.80,529.35 495.34,530.45 496.56,530.63 495.68,531.49 495.89,532.70 494.80,532.12 493.71,532.70 493.92,531.49 493.04,530.63 494.26,530.45" fill="#111"/>
<polygon points="498.60,529.35 499.14,530.45 500.36,530.63 499.48,531.49 499.69,532.70 498.60,532.12 497.51,532.70 497.72,531.49 496.84,530.63 498.06,530.45" fill="#111"/>
<text x="454.25" y="598.75" font-size="9.2" text-anchor="middle" fill="#111" font-weight="normal" stroke="#111" stroke-width="0.3">DMSO</text>
<text x="492.5" y="598.75" font-size="9.2" text-anchor="middle" fill="#111" font-weight="normal" stroke="#111" stroke-width="0.3">NTB</text>
<text x="492.5" y="608.75" font-size="9.2" text-anchor="middle" fill="#111" font-weight="normal" stroke="#111" stroke-width="0.3">5 μM</text>
<text x="0" y="0" font-size="10.6" text-anchor="middle" fill="#222" font-weight="normal" stroke="#222" stroke-width="0.3" textLength="39.0" lengthAdjust="spacingAndGlyphs" transform="translate(407,545.0) rotate(-90)">% viability</text>
<rect x="314.5" y="688.25" width="9.25" height="48.25" fill="#2E4A7E"/>
<rect x="314.9" y="688.65" width="8.45" height="48.25" fill="none" stroke="#24407a" stroke-width="0.8"/>
<line x1="319.12" y1="688.25" x2="319.12" y2="687.5" stroke="#2E4A7E" stroke-width="1.0"/>
<line x1="316.63" y1="687.5" x2="321.62" y2="687.5" stroke="#2E4A7E" stroke-width="1.2"/>
<rect x="328.75" y="691.5" width="9.5" height="45.0" fill="#A50028"/>
<rect x="329.15" y="691.9" width="8.7" height="45.0" fill="none" stroke="#8f0022" stroke-width="0.8"/>
<line x1="333.5" y1="691.5" x2="333.5" y2="689" stroke="#A50028" stroke-width="1.0"/>
<line x1="330.94" y1="689" x2="336.06" y2="689" stroke="#A50028" stroke-width="1.2"/>
<rect x="353" y="705.75" width="9.5" height="30.75" fill="#2E4A7E"/>
<rect x="353.4" y="706.15" width="8.7" height="30.75" fill="none" stroke="#24407a" stroke-width="0.8"/>
<line x1="357.75" y1="705.75" x2="357.75" y2="704" stroke="#2E4A7E" stroke-width="1.0"/>
<line x1="355.19" y1="704" x2="360.31" y2="704" stroke="#2E4A7E" stroke-width="1.2"/>
<rect x="367.5" y="709" width="9.5" height="27.5" fill="#A50028"/>
<rect x="367.9" y="709.4" width="8.7" height="27.5" fill="none" stroke="#8f0022" stroke-width="0.8"/>
<line x1="372.25" y1="709" x2="372.25" y2="707.5" stroke="#A50028" stroke-width="1.0"/>
<line x1="369.69" y1="707.5" x2="374.81" y2="707.5" stroke="#A50028" stroke-width="1.2"/>
<line x1="307.2" y1="657" x2="307.2" y2="737.05" stroke="#111" stroke-width="1.3"/>
<line x1="304.0" y1="736.5" x2="383.75" y2="736.5" stroke="#111" stroke-width="1.3"/>
<line x1="304.0" y1="736.5" x2="307.2" y2="736.5" stroke="#111" stroke-width="1.1"/>
<text x="300.8" y="739.5" font-size="9.2" text-anchor="end" fill="#111" font-weight="normal" stroke="#111" stroke-width="0.3">0</text>
<line x1="304.0" y1="717.23" x2="307.2" y2="717.23" stroke="#111" stroke-width="1.1"/>
<text x="300.8" y="720.23" font-size="9.2" text-anchor="end" fill="#111" font-weight="normal" stroke="#111" stroke-width="0.3">25</text>
<line x1="304.0" y1="697.95" x2="307.2" y2="697.95" stroke="#111" stroke-width="1.1"/>
<text x="300.8" y="700.95" font-size="9.2" text-anchor="end" fill="#111" font-weight="normal" stroke="#111" stroke-width="0.3">50</text>
<line x1="304.0" y1="678.67" x2="307.2" y2="678.67" stroke="#111" stroke-width="1.1"/>
<text x="300.8" y="681.67" font-size="9.2" text-anchor="end" fill="#111" font-weight="normal" stroke="#111" stroke-width="0.3">75</text>
<line x1="304.0" y1="659.4" x2="307.2" y2="659.4" stroke="#111" stroke-width="1.1"/>
<text x="300.8" y="662.4" font-size="9.2" text-anchor="end" fill="#111" font-weight="normal" stroke="#111" stroke-width="0.3">100</text>
<line x1="326.5" y1="736.5" x2="326.5" y2="739.7" stroke="#111" stroke-width="1.1"/>
<line x1="364.5" y1="736.5" x2="364.5" y2="739.7" stroke="#111" stroke-width="1.1"/>
<path d="M351.6,691.15 L351.6,689.45 Q351.6,688.15 352.9,688.15 L372.7,688.15 Q374.0,688.15 374.0,689.45 L374.0,691.15" fill="none" stroke="#111" stroke-width="1.25"/>
<line x1="362.8" y1="688.15" x2="362.8" y2="685.35" stroke="#111" stroke-width="1.2"/>
<text x="362.8" y="681.1" font-size="8.6" text-anchor="middle" fill="#111" font-weight="normal" stroke="#111" stroke-width="0.3" textLength="11.0" lengthAdjust="spacingAndGlyphs">NS</text>
<text x="326.5" y="750.75" font-size="9.2" text-anchor="middle" fill="#111" font-weight="normal" stroke="#111" stroke-width="0.3">DMSO</text>
<text x="364.5" y="750.75" font-size="9.2" text-anchor="middle" fill="#111" font-weight="normal" stroke="#111" stroke-width="0.3">NTB 5 μM</text>
<text x="0" y="0" font-size="10.6" text-anchor="middle" fill="#222" font-weight="normal" stroke="#222" stroke-width="0.3" textLength="39.0" lengthAdjust="spacingAndGlyphs" transform="translate(279,697.0) rotate(-90)">% viability</text>
<rect x="442.5" y="680" width="8.75" height="56.6" fill="#2E4A7E"/>
<rect x="442.9" y="680.4" width="7.95" height="56.6" fill="none" stroke="#24407a" stroke-width="0.8"/>
<rect x="456.25" y="695" width="9.5" height="41.6" fill="#A50028"/>
<rect x="456.65" y="695.4" width="8.7" height="41.6" fill="none" stroke="#8f0022" stroke-width="0.8"/>
<line x1="461.0" y1="695" x2="461.0" y2="693.25" stroke="#A50028" stroke-width="1.0"/>
<line x1="458.44" y1="693.25" x2="463.56" y2="693.25" stroke="#A50028" stroke-width="1.2"/>
<rect x="480.5" y="700" width="9.0" height="36.6" fill="#2E4A7E"/>
<rect x="480.9" y="700.4" width="8.2" height="36.6" fill="none" stroke="#24407a" stroke-width="0.8"/>
<rect x="494.5" y="710.25" width="9.25" height="26.35" fill="#A50028"/>
<rect x="494.9" y="710.65" width="8.45" height="26.35" fill="none" stroke="#8f0022" stroke-width="0.8"/>
<line x1="499.12" y1="710.25" x2="499.12" y2="704" stroke="#A50028" stroke-width="1.0"/>
<line x1="496.63" y1="704" x2="501.62" y2="704" stroke="#A50028" stroke-width="1.2"/>
<line x1="435.2" y1="657" x2="435.2" y2="737.15" stroke="#111" stroke-width="1.3"/>
<line x1="432.0" y1="736.6" x2="512" y2="736.6" stroke="#111" stroke-width="1.3"/>
<line x1="432.0" y1="736.6" x2="435.2" y2="736.6" stroke="#111" stroke-width="1.1"/>
<text x="428.8" y="739.6" font-size="9.2" text-anchor="end" fill="#111" font-weight="normal" stroke="#111" stroke-width="0.3">0</text>
<line x1="432.0" y1="717.3" x2="435.2" y2="717.3" stroke="#111" stroke-width="1.1"/>
<text x="428.8" y="720.3" font-size="9.2" text-anchor="end" fill="#111" font-weight="normal" stroke="#111" stroke-width="0.3">25</text>
<line x1="432.0" y1="698.0" x2="435.2" y2="698.0" stroke="#111" stroke-width="1.1"/>
<text x="428.8" y="701.0" font-size="9.2" text-anchor="end" fill="#111" font-weight="normal" stroke="#111" stroke-width="0.3">50</text>
<line x1="432.0" y1="678.7" x2="435.2" y2="678.7" stroke="#111" stroke-width="1.1"/>
<text x="428.8" y="681.7" font-size="9.2" text-anchor="end" fill="#111" font-weight="normal" stroke="#111" stroke-width="0.3">75</text>
<line x1="432.0" y1="659.4" x2="435.2" y2="659.4" stroke="#111" stroke-width="1.1"/>
<text x="428.8" y="662.4" font-size="9.2" text-anchor="end" fill="#111" font-weight="normal" stroke="#111" stroke-width="0.3">100</text>
<line x1="453.75" y1="736.6" x2="453.75" y2="739.8" stroke="#111" stroke-width="1.1"/>
<line x1="492.75" y1="736.6" x2="492.75" y2="739.8" stroke="#111" stroke-width="1.1"/>
<path d="M440.6,663.3 L440.6,661.6 Q440.6,660.3 441.9,660.3 L461.7,660.3 Q463.0,660.3 463.0,661.6 L463.0,663.3" fill="none" stroke="#111" stroke-width="1.25"/>
<line x1="451.8" y1="660.3" x2="451.8" y2="657.5" stroke="#111" stroke-width="1.2"/>
<polygon points="449.90,651.25 450.44,652.35 451.66,652.53 450.78,653.39 450.99,654.60 449.90,654.02 448.81,654.60 449.02,653.39 448.14,652.53 449.36,652.35" fill="#111"/>
<polygon points="453.70,651.25 454.24,652.35 455.46,652.53 454.58,653.39 454.79,654.60 453.70,654.02 452.61,654.60 452.82,653.39 451.94,652.53 453.16,652.35" fill="#111"/>
<path d="M479.3,689.5 L479.3,687.8 Q479.3,686.5 480.6,686.5 L500,686.5 Q501.3,686.5 501.3,687.8 L501.3,689.5" fill="none" stroke="#111" stroke-width="1.25"/>
<line x1="490.3" y1="686.5" x2="490.3" y2="683.7" stroke="#111" stroke-width="1.2"/>
<polygon points="488.40,677.55 488.94,678.65 490.16,678.83 489.28,679.69 489.49,680.90 488.40,680.32 487.31,680.90 487.52,679.69 486.64,678.83 487.86,678.65" fill="#111"/>
<polygon points="492.20,677.55 492.74,678.65 493.96,678.83 493.08,679.69 493.29,680.90 492.20,680.32 491.11,680.90 491.32,679.69 490.44,678.83 491.66,678.65" fill="#111"/>
<text x="454" y="750.75" font-size="9.2" text-anchor="middle" fill="#111" font-weight="normal" stroke="#111" stroke-width="0.3">DMSO</text>
<text x="491.9" y="750.75" font-size="9.2" text-anchor="middle" fill="#111" font-weight="normal" stroke="#111" stroke-width="0.3">NTB 5 μM</text>
<text x="0" y="0" font-size="10.6" text-anchor="middle" fill="#222" font-weight="normal" stroke="#222" stroke-width="0.3" textLength="38.75" lengthAdjust="spacingAndGlyphs" transform="translate(407,697.62) rotate(-90)">% viability</text>
<text x="8.1" y="34.1" font-size="13.3" text-anchor="start" fill="#000" font-weight="bold" stroke="#000" stroke-width="0.35">A</text>
<text x="7.5" y="184.3" font-size="13.3" text-anchor="start" fill="#000" font-weight="bold" stroke="#000" stroke-width="0.35">B</text>
<text x="8.0" y="341.3" font-size="13.3" text-anchor="start" fill="#000" font-weight="bold" stroke="#000" stroke-width="0.35">C</text>
<text x="8.3" y="490.6" font-size="13.3" text-anchor="start" fill="#000" font-weight="bold" stroke="#000" stroke-width="0.35">D</text>
<text x="7.8" y="640.4" font-size="13.3" text-anchor="start" fill="#000" font-weight="bold" stroke="#000" stroke-width="0.35">E</text>
<text x="270.3" y="33.75" font-size="13.3" text-anchor="start" fill="#000" font-weight="bold" stroke="#000" stroke-width="0.35">F</text>
<text x="269.7" y="184.2" font-size="13.3" text-anchor="start" fill="#000" font-weight="bold" stroke="#000" stroke-width="0.35">G</text>
<text x="269.7" y="341.25" font-size="13.3" text-anchor="start" fill="#000" font-weight="bold" stroke="#000" stroke-width="0.35">H</text>
<text x="269.7" y="490.5" font-size="13.3" text-anchor="start" fill="#000" font-weight="bold" stroke="#000" stroke-width="0.35">I</text>
<text x="269.7" y="640" font-size="13.3" text-anchor="start" fill="#000" font-weight="bold" stroke="#000" stroke-width="0.35">J</text>
<text x="0" y="0" font-size="10.8" text-anchor="middle" fill="#111" font-weight="normal" stroke="#111" stroke-width="0.3" textLength="32.1" lengthAdjust="spacingAndGlyphs" transform="translate(16.9,88.05) rotate(-90)">LAX7R</text>
<text x="0" y="0" font-size="10.8" text-anchor="middle" fill="#111" font-weight="normal" stroke="#111" stroke-width="0.3" textLength="31" lengthAdjust="spacingAndGlyphs" transform="translate(16.9,244.5) rotate(-90)">LAX53</text>
<text x="0" y="0" font-size="10.8" text-anchor="middle" fill="#111" font-weight="normal" stroke="#111" stroke-width="0.3" textLength="27.0" lengthAdjust="spacingAndGlyphs" transform="translate(16.9,396.0) rotate(-90)">PDX2</text>
<text x="0" y="0" font-size="10.8" text-anchor="middle" fill="#111" font-weight="normal" stroke="#111" stroke-width="0.3" textLength="21.75" lengthAdjust="spacingAndGlyphs" transform="translate(16.9,545.38) rotate(-90)">TXL3</text>
<text x="0" y="0" font-size="10.8" text-anchor="middle" fill="#111" font-weight="normal" stroke="#111" stroke-width="0.3" textLength="27.0" lengthAdjust="spacingAndGlyphs" transform="translate(16.9,699.0) rotate(-90)">SFO2</text>
<line x1="312.1" y1="41" x2="382.3" y2="41" stroke="#555" stroke-width="1.5"/>
<text x="347" y="35.3" font-size="9.2" text-anchor="middle" fill="#111" font-weight="normal" stroke="#111" stroke-width="0.3">BSA</text>
<line x1="438" y1="41" x2="508.75" y2="41" stroke="#555" stroke-width="1.5"/>
<text x="473" y="35.3" font-size="9.2" text-anchor="middle" fill="#111" font-weight="normal" stroke="#111" stroke-width="0.3">Laminin-1</text>
<line x1="310.5" y1="191.2" x2="380.7" y2="191.2" stroke="#222" stroke-width="1.5"/>
<text x="345.4" y="186" font-size="9.2" text-anchor="middle" fill="#111" font-weight="normal" stroke="#111" stroke-width="0.3">BSA</text>
<line x1="438" y1="191.2" x2="508.75" y2="191.2" stroke="#222" stroke-width="1.5"/>
<text x="473" y="186" font-size="9.2" text-anchor="middle" fill="#111" font-weight="normal" stroke="#111" stroke-width="0.3">Laminin-1</text>
<line x1="310.5" y1="347.5" x2="380.7" y2="347.5" stroke="#555" stroke-width="1.5"/>
<text x="345.4" y="343" font-size="9.2" text-anchor="middle" fill="#111" font-weight="normal" stroke="#111" stroke-width="0.3">BSA</text>
<line x1="438" y1="347.5" x2="508.75" y2="347.5" stroke="#555" stroke-width="1.5"/>
<text x="473" y="343" font-size="9.2" text-anchor="middle" fill="#111" font-weight="normal" stroke="#111" stroke-width="0.3">Laminin-1</text>
<line x1="310.5" y1="497" x2="380.7" y2="497" stroke="#333" stroke-width="1.5"/>
<text x="345.4" y="492.5" font-size="9.2" text-anchor="middle" fill="#111" font-weight="normal" stroke="#111" stroke-width="0.3">BSA</text>
<line x1="438" y1="497" x2="508.75" y2="497" stroke="#333" stroke-width="1.5"/>
<text x="473" y="492.5" font-size="9.2" text-anchor="middle" fill="#111" font-weight="normal" stroke="#111" stroke-width="0.3">Laminin-1</text>
<line x1="310.5" y1="647" x2="380.7" y2="647" stroke="#555" stroke-width="1.5"/>
<text x="345.4" y="641.5" font-size="9.2" text-anchor="middle" fill="#111" font-weight="normal" stroke="#111" stroke-width="0.3">BSA</text>
<line x1="438" y1="647" x2="508.75" y2="647" stroke="#555" stroke-width="1.5"/>
<text x="473" y="641.5" font-size="9.2" text-anchor="middle" fill="#111" font-weight="normal" stroke="#111" stroke-width="0.3">Laminin-1</text>
<rect x="398.25" y="9" width="7.75" height="7.25" fill="#2E4A7E"/>
<text x="410" y="15.3" font-size="9.2" text-anchor="start" fill="#111" font-weight="normal" stroke="#111" stroke-width="0.3" textLength="18.0" lengthAdjust="spacingAndGlyphs">IgG1</text>
<rect x="439" y="9" width="8" height="7.25" fill="#A50028"/>
<text x="450.8" y="15.3" font-size="9.2" text-anchor="start" fill="#111" font-weight="normal" stroke="#111" stroke-width="0.3" textLength="60.8" lengthAdjust="spacingAndGlyphs">Anti-α6 (P5G10)</text>
</svg>
<div class="frame"></div>
</body></html>
